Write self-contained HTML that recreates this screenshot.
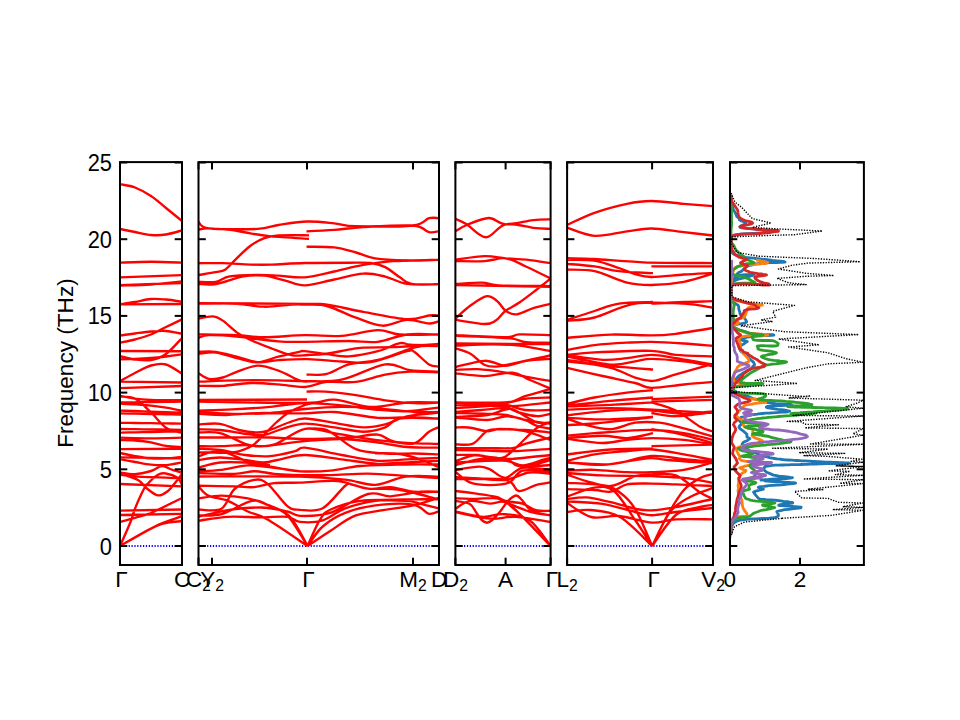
<!DOCTYPE html>
<html><head><meta charset="utf-8"><style>
html,body{margin:0;padding:0;width:960px;height:720px;overflow:hidden;background:#fff}
body{position:relative;font-family:"Liberation Sans",sans-serif;}
.xl{position:absolute;top:567px;width:120px;text-align:center;font-size:22.5px;line-height:26px;color:#000;white-space:nowrap}
.sub{font-size:15.7px;position:relative;top:4px}
.yl{position:absolute;left:51.5px;width:60px;text-align:right;font-size:23.5px;line-height:24px;transform:scaleX(0.93);transform-origin:100% 50%;color:#000}
.ylab{position:absolute;left:66px;top:363px;width:300px;margin-left:-150px;margin-top:-12px;text-align:center;font-size:22.6px;line-height:24px;transform:rotate(-90deg);white-space:nowrap}
</style></head><body>
<svg width="960" height="720" viewBox="0 0 960 720" style="position:absolute;left:0;top:0">
<rect width="960" height="720" fill="#fff"/>
<line x1="120" y1="546" x2="182" y2="546" stroke="#0000ff" stroke-width="1.9" stroke-dasharray="1.2 1.675"/>
<line x1="198.5" y1="546" x2="439" y2="546" stroke="#0000ff" stroke-width="1.9" stroke-dasharray="1.2 1.675"/>
<line x1="455.4" y1="546" x2="550.6" y2="546" stroke="#0000ff" stroke-width="1.9" stroke-dasharray="1.2 1.675"/>
<line x1="567.1" y1="546" x2="713" y2="546" stroke="#0000ff" stroke-width="1.9" stroke-dasharray="1.2 1.675"/>
<path d="M120.0,184.2C122.5,184.8 129.8,185.5 135.0,187.5C140.2,189.5 145.8,192.6 151.0,196.0C156.2,199.4 160.8,203.8 166.0,208.0C171.2,212.2 179.3,218.8 182.0,221.0 M120.0,229.0C122.5,229.5 129.8,231.0 135.0,232.0C140.2,233.0 145.8,234.6 151.0,235.0C156.2,235.4 160.8,235.3 166.0,234.5C171.2,233.7 179.3,231.1 182.0,230.4 M120.0,262.7C125.2,262.5 140.7,261.7 151.0,261.7C161.3,261.7 176.8,262.5 182.0,262.7 M120.0,277.3L182.0,275.2 M120.0,285.2L182.0,283.0 M120.0,285.6C125.2,285.4 140.7,285.2 151.0,284.5C161.3,283.8 176.8,282.0 182.0,281.5 M120.0,304.4C122.5,304.0 129.8,302.9 135.0,302.0C140.2,301.1 145.8,299.4 151.0,299.0C156.2,298.6 160.8,299.1 166.0,299.5C171.2,299.9 179.3,301.3 182.0,301.7 M120.0,304.4L182.0,304.0 M120.0,335.6C122.5,335.2 129.8,334.2 135.0,333.5C140.2,332.8 145.8,331.9 151.0,331.5C156.2,331.1 160.8,330.6 166.0,331.0C171.2,331.4 179.3,333.3 182.0,333.8 M120.0,342.8C122.5,342.2 129.8,340.9 135.0,339.5C140.2,338.1 145.8,336.6 151.0,334.5C156.2,332.4 160.8,329.5 166.0,327.0C171.2,324.5 179.3,320.7 182.0,319.4 M120.0,351.0L182.0,351.2 M120.0,356.2C122.5,356.8 129.8,358.9 135.0,359.5C140.2,360.1 145.8,360.9 151.0,360.0C156.2,359.1 160.8,357.7 166.0,354.0C171.2,350.3 179.3,340.7 182.0,338.0 M120.0,359.4C122.5,359.3 129.8,359.1 135.0,358.9C140.2,358.7 145.8,358.4 151.0,358.0C156.2,357.6 160.8,357.1 166.0,356.5C171.2,355.9 179.3,354.8 182.0,354.4 M120.0,381.2C122.5,379.9 129.8,375.6 135.0,373.0C140.2,370.4 145.8,366.9 151.0,365.5C156.2,364.1 160.8,363.1 166.0,364.5C171.2,365.9 179.3,372.2 182.0,373.8 M120.0,381.6L182.0,382.5 M120.0,388.1L182.0,386.0 M120.0,395.9C122.5,396.3 129.8,397.9 135.0,398.6C140.2,399.3 145.8,399.7 151.0,400.0C156.2,400.3 160.8,400.2 166.0,400.2C171.2,400.2 179.3,400.2 182.0,400.2 M120.0,396.6C122.5,396.9 129.8,396.0 135.0,398.6C140.2,401.2 145.8,407.5 151.0,412.4C156.2,417.2 160.8,424.3 166.0,427.7C171.2,431.1 179.3,432.1 182.0,433.0 M120.0,402.5C122.5,402.5 129.8,402.4 135.0,402.3C140.2,402.2 145.8,402.1 151.0,402.0C156.2,401.9 160.8,401.9 166.0,401.9C171.2,401.8 179.3,401.7 182.0,401.7 M120.0,403.7C122.5,403.8 129.8,404.0 135.0,404.3C140.2,404.6 145.8,405.1 151.0,405.6C156.2,406.2 160.8,406.8 166.0,407.6C171.2,408.5 179.3,410.2 182.0,410.7 M120.0,410.7C122.5,410.8 129.8,410.8 135.0,411.0C140.2,411.2 145.8,411.5 151.0,411.7C156.2,411.9 160.8,412.0 166.0,412.2C171.2,412.4 179.3,412.6 182.0,412.7 M120.0,413.4C122.5,413.4 129.8,413.6 135.0,413.7C140.2,413.8 145.8,413.9 151.0,414.0C156.2,414.1 160.8,414.2 166.0,414.3C171.2,414.4 179.3,414.6 182.0,414.6 M120.0,422.8C122.5,422.8 129.8,422.9 135.0,423.0C140.2,423.1 145.8,423.1 151.0,423.2C156.2,423.3 160.8,423.3 166.0,423.4C171.2,423.5 179.3,423.6 182.0,423.6 M120.0,429.0C122.5,429.0 129.8,429.1 135.0,429.2C140.2,429.3 145.8,429.3 151.0,429.4C156.2,429.5 160.8,429.5 166.0,429.6C171.2,429.7 179.3,429.8 182.0,429.8 M120.0,432.6C122.5,432.6 129.8,432.4 135.0,432.3C140.2,432.2 145.8,432.1 151.0,432.0C156.2,431.9 160.8,431.8 166.0,431.7C171.2,431.6 179.3,431.4 182.0,431.4 M120.0,437.7C125.2,437.8 140.7,438.3 151.0,438.3C161.3,438.3 176.8,437.8 182.0,437.7 M120.0,440.1C122.5,440.2 129.8,440.1 135.0,440.5C140.2,440.9 145.8,441.5 151.0,442.4C156.2,443.3 160.8,445.1 166.0,445.9C171.2,446.7 179.3,446.9 182.0,447.1 M120.0,449.1L182.0,448.7 M120.0,453.0C122.5,453.5 129.8,455.2 135.0,456.1C140.2,457.0 145.8,458.0 151.0,458.4C156.2,458.8 160.8,458.6 166.0,458.4C171.2,458.1 179.3,457.1 182.0,456.9 M120.0,457.3L182.0,458.4 M120.0,459.2C122.5,459.7 129.8,461.1 135.0,462.0C140.2,462.9 145.8,464.2 151.0,464.7C156.2,465.2 160.8,465.5 166.0,465.1C171.2,464.7 179.3,462.8 182.0,462.3 M120.0,472.5C122.5,472.8 129.8,474.4 135.0,474.1C140.2,473.9 146.5,472.3 151.0,471.0C155.5,469.7 158.3,466.4 162.0,466.2C165.7,466.1 169.7,469.2 173.0,470.2C176.3,471.2 180.5,472.1 182.0,472.5 M120.0,474.8C122.5,475.1 129.8,476.0 135.0,476.4C140.2,476.8 145.8,477.0 151.0,477.2C156.2,477.4 160.8,477.4 166.0,477.6C171.2,477.8 179.3,478.3 182.0,478.4 M120.0,473.5C123.1,474.6 134.0,477.8 138.4,480.2C142.8,482.6 143.0,485.5 146.2,488.0C149.5,490.5 154.4,494.9 158.0,495.4C161.6,495.9 165.0,493.3 168.0,491.0C171.0,488.7 173.7,484.5 176.0,481.7C178.3,478.9 181.0,475.3 182.0,474.0 M120.0,484.0L182.0,486.4 M120.0,546.0C121.8,542.0 128.2,527.7 130.6,521.7C133.0,515.7 132.9,514.1 134.5,510.0C136.1,505.9 138.0,501.1 140.0,497.0C142.0,492.9 143.2,489.3 146.2,485.6C149.2,481.9 154.7,476.7 158.0,474.7C161.3,472.7 162.6,473.0 165.8,473.5C169.1,474.0 174.8,475.9 177.5,477.8C180.2,479.7 181.2,483.6 182.0,484.8 M120.0,546.0C124.4,543.5 139.3,534.9 146.2,531.1C153.2,527.3 155.9,525.8 161.9,523.3C167.9,520.8 178.7,517.4 182.0,516.2 M120.0,546.0C124.4,543.5 139.3,534.8 146.2,531.1C153.2,527.4 155.9,525.5 161.9,523.8C167.9,522.1 178.7,521.5 182.0,521.0 M120.0,522.0C124.4,520.8 140.6,516.4 146.2,514.7C151.9,513.0 148.0,514.4 154.0,511.6C160.0,508.8 177.3,500.3 182.0,498.0 M120.0,515.0L182.0,513.9 M120.0,510.6L182.0,509.5 M198.5,221.8C200.2,222.9 199.2,227.1 209.0,228.3C218.8,229.5 245.9,229.5 257.5,228.9C269.1,228.3 270.1,226.2 278.3,225.0C286.6,223.8 297.7,221.8 307.0,221.5C316.3,221.2 326.0,222.5 334.2,223.3C342.4,224.1 342.9,225.9 356.0,226.2C369.1,226.6 400.7,226.8 412.9,225.5C425.1,224.2 424.7,219.4 429.0,218.2C433.3,217.0 436.9,218.2 438.5,218.2 M198.5,229.6C200.1,229.4 202.8,228.2 208.0,228.3C213.2,228.4 222.6,229.1 229.7,229.9C236.8,230.7 243.6,232.2 250.5,233.3C257.4,234.4 261.6,235.5 271.4,236.4C281.1,237.3 302.7,238.4 309.0,238.8 M198.5,275.0C201.4,274.5 211.3,273.1 215.8,272.2C220.3,271.3 222.0,271.7 225.5,269.4C229.0,267.1 232.5,262.2 236.7,258.3C240.9,254.4 245.9,249.2 250.5,245.8C255.1,242.5 259.8,239.9 264.4,238.2C269.0,236.5 270.9,235.9 278.3,235.4C285.7,234.9 303.9,235.3 309.0,235.3 M306.5,231.4C311.1,231.2 324.7,230.6 334.2,229.9C343.7,229.2 350.2,227.7 363.3,227.0C376.4,226.3 401.9,224.7 412.9,225.5C423.8,226.3 424.7,231.1 429.0,232.1C433.3,233.1 436.9,231.5 438.5,231.4 M306.5,246.7C311.1,246.8 325.9,246.4 334.2,247.4C342.4,248.4 349.2,250.7 356.0,252.5C362.8,254.3 366.5,257.0 375.0,258.3C383.5,259.6 396.4,260.2 407.0,260.5C417.6,260.8 433.2,259.9 438.5,259.8 M198.5,263.2C202.6,263.2 214.1,263.0 222.8,263.2C231.5,263.4 242.4,264.4 250.5,264.6C258.6,264.8 262.3,264.9 271.4,264.6C280.5,264.3 292.1,263.3 305.0,263.0C317.9,262.7 337.8,262.7 348.8,262.7C359.7,262.7 364.5,262.3 370.6,263.0C376.7,263.7 380.3,264.7 385.2,267.1C390.1,269.5 395.4,274.5 399.8,277.3C404.2,280.1 405.1,282.7 411.5,283.9C417.9,285.1 434.0,284.2 438.5,284.3 M198.5,281.9C201.4,281.9 210.6,282.8 215.8,281.9C221.0,281.0 222.8,277.5 229.7,276.4C236.6,275.2 249.4,275.1 257.5,275.0C265.6,274.9 270.4,275.3 278.3,275.7C286.2,276.1 295.7,278.0 305.0,277.3C314.3,276.6 324.5,273.6 334.2,271.5C343.9,269.4 353.6,266.6 363.3,264.9C373.0,263.2 380.0,262.1 392.5,261.2C405.0,260.4 430.8,260.0 438.5,259.8 M198.5,284.0C201.4,284.0 208.3,285.3 215.8,284.0C223.3,282.7 235.5,277.8 243.6,276.4C251.7,275.0 257.4,275.0 264.4,275.7C271.3,276.4 278.5,279.0 285.3,280.6C292.1,282.2 296.9,285.5 305.0,285.3C313.1,285.1 324.5,281.4 334.2,279.5C343.9,277.6 354.8,274.1 363.3,273.6C371.8,273.1 377.9,274.9 385.2,276.6C392.5,278.3 398.1,282.6 407.0,283.9C415.9,285.2 433.2,284.2 438.5,284.3 M198.5,303.2C216.2,303.3 283.6,303.7 305.0,303.9C326.4,304.1 317.2,303.3 326.9,304.6C336.6,305.9 349.9,309.5 363.3,311.9C376.7,314.3 396.1,318.6 407.0,319.2C417.9,319.8 423.8,316.1 429.0,315.5C434.2,314.9 436.9,315.5 438.5,315.5 M198.5,303.9C204.9,303.9 225.7,303.4 236.7,303.9C247.7,304.4 255.1,306.6 264.4,306.7C273.6,306.8 285.4,305.0 292.2,304.6C299.0,304.2 299.2,304.4 305.0,304.6C310.8,304.8 318.4,303.8 326.9,306.0C335.4,308.2 346.8,314.4 356.0,317.7C365.2,321.0 373.8,325.3 382.3,325.7C390.8,326.1 399.2,320.3 407.0,319.9C414.8,319.5 423.8,323.2 429.0,323.5C434.2,323.8 436.9,321.8 438.5,321.4 M198.5,318.5C200.9,318.1 208.9,316.0 213.0,316.4C217.1,316.8 218.9,317.9 222.8,320.6C226.8,323.3 232.1,329.2 236.7,332.4C241.3,335.6 244.7,337.4 250.5,340.0C256.3,342.6 264.4,345.8 271.4,348.3C278.3,350.9 286.1,354.2 292.2,355.3C298.3,356.4 302.2,355.2 307.8,355.0C313.4,354.8 318.6,354.8 325.6,353.9C332.6,353.0 343.7,350.4 350.0,349.4C356.3,348.3 355.0,348.0 363.3,347.6C371.6,347.2 387.3,347.5 399.8,346.9C412.3,346.3 432.1,344.5 438.5,344.0 M198.5,334.4C204.9,334.5 225.7,334.6 236.7,335.1C247.7,335.6 253.0,337.2 264.4,337.2C275.8,337.2 292.1,335.4 305.0,335.2C317.9,335.0 329.4,336.8 341.5,335.9C353.6,335.0 368.2,330.3 377.9,330.1C387.6,329.9 389.7,333.8 399.8,334.5C409.9,335.2 432.1,334.5 438.5,334.5 M198.5,337.9C200.2,337.4 202.5,335.3 208.9,335.1C215.3,334.9 225.1,335.4 236.7,336.5C248.3,337.6 266.9,340.5 278.3,341.4C289.7,342.3 293.3,341.9 305.0,341.8C316.7,341.7 336.6,341.0 348.8,341.0C360.9,341.0 368.2,342.9 377.9,341.8C387.6,340.7 396.9,335.7 407.0,334.5C417.1,333.3 433.2,334.5 438.5,334.5 M198.5,351.8C201.4,351.8 209.4,351.0 215.8,351.8C222.2,352.6 229.8,355.0 236.7,356.7C243.6,358.4 250.6,361.6 257.5,362.2C264.4,362.8 269.9,360.6 278.3,360.1C286.7,359.6 297.3,358.9 307.8,359.1C318.3,359.3 331.0,361.0 341.5,361.5C352.0,362.0 359.7,363.9 370.6,362.2C381.5,360.5 399.7,352.9 407.0,351.2C414.3,349.6 410.7,349.8 414.4,352.0C418.1,354.2 425.0,362.0 429.0,364.4C433.0,366.8 436.9,366.2 438.5,366.6 M198.5,353.9C201.4,353.7 209.4,351.8 215.8,352.5C222.2,353.2 229.8,356.4 236.7,358.0C243.6,359.6 250.6,362.4 257.5,362.2C264.4,362.0 271.4,358.4 278.3,356.7C285.2,355.0 294.8,352.7 299.2,351.8C303.6,350.9 300.4,350.9 305.0,351.2C309.6,351.6 319.6,353.3 326.9,354.2C334.2,355.1 340.2,356.9 348.8,356.4C357.2,355.9 369.4,353.4 377.9,351.2C386.4,349.1 394.4,344.3 399.8,343.2C405.2,342.1 403.6,344.3 410.0,344.7C416.4,345.1 433.8,345.3 438.5,345.4 M198.5,373.3C200.2,374.2 204.8,378.2 208.9,378.9C213.0,379.6 218.2,378.7 222.8,377.5C227.4,376.3 230.9,373.9 236.7,371.9C242.5,369.9 250.6,365.9 257.5,365.7C264.4,365.5 271.4,368.2 278.3,370.6C285.2,373.0 294.4,378.5 299.2,380.3C304.0,382.1 305.7,381.5 307.0,381.7 M306.5,374.6C309.9,374.5 319.9,375.6 326.9,373.9C333.9,372.2 340.2,366.7 348.8,364.4C357.2,362.1 368.2,362.4 377.9,360.0C387.6,357.6 399.7,352.1 407.0,349.8C414.3,347.5 416.4,346.7 421.7,346.1C426.9,345.5 435.7,346.1 438.5,346.1 M198.5,381.7C204.9,381.5 223.4,380.5 236.7,380.3C250.0,380.1 266.9,380.2 278.3,380.3C289.7,380.4 294.5,381.2 305.0,381.1C315.5,381.0 328.1,382.5 341.5,379.7C354.9,376.9 373.8,366.0 385.2,364.4C396.6,362.8 401.1,369.0 410.0,370.2C418.9,371.4 433.8,371.4 438.5,371.7 M198.5,385.8C202.6,385.8 214.1,386.3 222.8,385.8C231.5,385.3 241.2,383.2 250.5,383.0C259.8,382.8 269.2,383.7 278.3,384.4C287.4,385.1 296.9,387.4 305.0,387.0C313.1,386.6 318.4,382.8 326.9,381.9C335.4,381.0 346.3,383.1 356.0,381.9C365.7,380.7 376.2,376.3 385.2,374.6C394.2,372.9 401.1,372.1 410.0,371.7C418.9,371.3 433.8,372.3 438.5,372.4 M198.5,400.0L307.0,399.5 M306.5,391.6C309.7,391.6 317.4,391.1 325.6,391.7C333.9,392.3 346.1,393.8 356.0,395.2C365.9,396.6 375.5,399.0 385.2,400.3C394.9,401.6 405.5,402.8 414.4,403.2C423.3,403.6 434.5,402.6 438.5,402.5 M198.5,401.5C216.2,401.8 282.4,403.3 305.0,403.0C327.6,402.7 323.3,399.0 334.2,399.6C345.1,400.2 358.5,406.4 370.6,406.9C382.7,407.4 395.7,403.2 407.0,402.5C418.3,401.8 433.2,402.5 438.5,402.5 M198.5,410.6C204.2,410.4 220.6,410.0 232.5,409.4C244.4,408.8 257.9,407.9 270.0,406.9C282.1,405.9 293.1,403.4 305.0,403.2C316.9,402.9 329.4,404.3 341.5,405.4C353.6,406.5 367.0,408.8 377.9,409.8C388.8,410.8 396.9,411.6 407.0,411.2C417.1,410.9 433.2,408.2 438.5,407.6 M198.5,411.9C204.2,412.2 220.6,413.6 232.5,413.8C244.4,413.9 257.9,413.9 270.0,413.1C282.1,412.3 293.1,410.0 305.0,409.0C316.9,408.0 329.4,407.0 341.5,406.9C353.6,406.8 365.8,407.4 377.9,408.3C390.0,409.2 404.3,411.4 414.4,412.0C424.5,412.6 434.5,412.0 438.5,412.0 M198.5,413.8C203.1,414.0 216.2,415.1 226.0,415.0C235.8,414.9 244.3,413.4 257.5,413.1C270.7,412.8 292.2,413.6 305.0,413.4C317.8,413.2 322.1,411.3 334.2,412.0C346.3,412.7 365.8,416.9 377.9,417.8C390.0,418.7 396.9,417.0 407.0,417.1C417.1,417.2 433.2,418.3 438.5,418.5 M198.5,424.4C202.1,424.3 213.3,422.8 220.0,423.8C226.7,424.7 232.5,428.5 238.8,430.0C245.0,431.5 252.3,432.5 257.5,432.5C262.7,432.5 264.8,431.7 270.0,430.0C275.2,428.3 282.9,424.4 288.8,422.5C294.6,420.6 297.4,418.4 305.0,418.5C312.6,418.6 324.5,421.4 334.2,422.9C343.9,424.4 354.8,427.1 363.3,427.3C371.8,427.6 377.9,426.2 385.2,424.4C392.5,422.6 398.1,418.3 407.0,416.4C415.9,414.4 433.2,413.3 438.5,412.7 M198.5,429.4C202.1,429.5 212.2,429.3 220.0,430.0C227.8,430.7 237.7,432.9 245.0,433.8C252.3,434.6 257.5,435.8 263.8,435.0C270.0,434.2 275.6,430.6 282.5,428.8C289.4,426.9 296.4,423.8 305.0,423.6C313.6,423.4 324.5,426.0 334.2,427.3C343.9,428.6 354.8,431.7 363.3,431.7C371.8,431.7 379.1,429.5 385.2,427.3C391.3,425.1 390.9,420.0 399.8,418.5C408.7,417.0 432.1,418.5 438.5,418.5 M198.5,432.5C202.1,432.6 212.2,431.2 220.0,433.1C227.8,435.0 238.8,441.6 245.0,443.8C251.2,445.9 252.3,446.2 257.5,446.2C262.7,446.2 268.3,446.7 276.2,443.8C284.2,440.8 295.3,430.5 305.0,428.8C314.7,427.0 324.5,431.5 334.2,433.1C343.9,434.7 353.6,436.7 363.3,438.2C373.0,439.7 384.0,441.0 392.5,441.9C401.0,442.8 408.3,445.0 414.4,443.3C420.5,441.6 425.0,434.4 429.0,431.7C433.0,429.0 436.9,428.0 438.5,427.3 M198.5,437.5C204.2,437.5 220.6,437.5 232.5,437.5C244.4,437.5 257.9,437.2 270.0,437.5C282.1,437.8 291.9,439.0 305.0,439.0C318.1,439.0 336.6,438.2 348.8,437.5C360.9,436.8 370.1,433.9 377.9,434.6C385.7,435.3 385.3,440.3 395.4,441.9C405.5,443.5 431.3,443.6 438.5,444.0 M198.5,452.5C201.0,452.5 208.1,452.5 213.8,452.5C219.4,452.5 226.2,453.5 232.5,452.5C238.8,451.5 246.0,449.2 251.2,446.2C256.5,443.3 259.6,439.0 263.8,435.0C267.9,431.0 272.1,426.2 276.2,422.5C280.4,418.8 284.0,415.4 288.8,412.5C293.5,409.6 300.6,406.6 305.0,405.0C309.4,403.4 313.3,403.3 315.0,403.0 M198.5,446.2C202.1,446.2 212.2,446.5 220.0,446.2C227.8,446.0 237.7,445.0 245.0,445.0C252.3,445.0 257.5,446.5 263.8,446.2C270.0,446.0 275.6,444.6 282.5,443.8C289.4,442.9 295.2,441.9 305.0,441.1C314.8,440.3 329.4,438.8 341.5,439.0C353.6,439.2 367.0,441.3 377.9,442.6C388.8,443.9 396.9,446.1 407.0,447.0C417.1,447.9 433.2,447.6 438.5,447.7 M198.5,448.8C202.1,449.0 212.2,449.0 220.0,450.0C227.8,451.0 236.7,454.0 245.0,455.0C253.3,456.0 261.7,456.9 270.0,456.2C278.3,455.6 289.2,452.7 295.0,451.2C300.8,449.8 297.2,447.1 305.0,447.7C312.8,448.3 329.4,452.8 341.5,455.0C353.6,457.2 367.0,460.1 377.9,460.8C388.8,461.5 396.9,459.9 407.0,459.4C417.1,458.9 433.2,458.1 438.5,457.9 M198.5,460.0C202.1,459.6 212.2,457.5 220.0,457.5C227.8,457.5 237.7,459.2 245.0,460.0C252.3,460.8 257.5,462.7 263.8,462.5C270.0,462.3 275.6,460.0 282.5,458.8C289.4,457.5 295.2,454.9 305.0,455.0C314.8,455.1 329.4,457.9 341.5,459.4C353.6,460.9 367.0,463.3 377.9,463.8C388.8,464.2 396.9,462.8 407.0,462.3C417.1,461.8 433.2,461.1 438.5,460.8 M198.5,456.2C202.1,455.4 211.2,450.2 220.0,451.2C228.8,452.3 240.8,459.6 251.2,462.5C261.7,465.4 274.4,467.3 282.5,468.8C290.6,470.2 292.1,471.0 300.0,471.3C307.9,471.6 320.1,471.5 330.2,470.6C340.3,469.7 347.8,467.0 360.4,466.0C373.0,465.0 392.7,464.8 405.7,464.5C418.7,464.2 433.0,464.5 438.5,464.5 M198.5,467.5C202.1,466.7 212.2,463.3 220.0,462.5C227.8,461.7 236.7,462.1 245.0,462.5C253.3,462.9 265.8,464.6 270.0,465.0 M305.0,428.8C308.6,429.0 318.4,426.8 326.9,430.2C335.4,433.6 346.3,445.3 356.0,449.2C365.7,453.1 375.5,452.8 385.2,453.5C394.9,454.2 405.5,453.4 414.4,453.5C423.3,453.6 434.5,454.2 438.5,454.3 M375.0,453.3C379.2,453.4 392.2,452.9 400.0,454.0C407.8,455.1 415.3,457.8 421.7,460.0C428.1,462.2 435.7,465.8 438.5,467.0 M198.5,471.2C202.3,471.0 213.2,470.9 221.4,469.9C229.6,468.9 239.0,465.6 247.8,465.3C256.6,465.0 265.5,466.9 274.2,467.9C282.9,468.9 295.7,470.7 300.0,471.3 M198.5,473.2C204.5,473.3 225.3,474.2 234.6,473.9C243.9,473.6 247.8,471.2 254.4,471.2C261.0,471.2 266.6,473.2 274.2,473.9C281.8,474.5 290.7,474.9 300.0,475.1C309.3,475.3 318.9,475.4 330.2,475.1C341.5,474.9 355.4,473.5 368.0,473.6C380.6,473.7 393.9,475.1 405.7,475.9C417.4,476.6 433.0,477.7 438.5,478.1 M198.5,476.5C215.4,476.5 275.5,476.1 300.0,476.6C324.5,477.1 332.7,478.2 345.3,479.6C357.9,481.0 365.4,485.4 375.5,484.9C385.6,484.4 395.2,478.0 405.7,476.6C416.2,475.2 433.0,476.6 438.5,476.6 M198.5,485.7C204.5,485.8 225.3,486.2 234.6,486.4C243.9,486.6 247.8,487.7 254.4,487.1C261.0,486.6 266.6,483.8 274.2,483.1C281.8,482.4 289.4,483.0 300.0,482.7C310.6,482.4 326.5,480.1 337.8,481.1C349.1,482.1 359.2,487.7 368.0,488.7C376.8,489.7 383.1,486.7 390.6,487.2C398.2,487.7 405.3,490.9 413.3,491.7C421.3,492.4 434.3,491.7 438.5,491.7 M198.5,486.5C200.1,488.0 203.3,493.2 208.2,495.6C213.1,498.0 221.4,498.2 228.0,500.9C234.6,503.5 241.2,508.4 247.8,511.5C254.4,514.6 257.7,513.6 267.6,519.4C277.6,525.1 300.9,541.6 307.5,546.0 M198.5,509.5C202.3,509.4 215.4,512.2 221.4,508.8C227.4,505.4 229.1,493.8 234.6,489.0C240.1,484.2 248.9,480.7 254.4,479.8C259.9,478.9 262.1,479.4 267.6,483.8C273.1,488.2 282.0,501.9 287.4,506.2C292.8,510.5 294.1,509.4 300.0,509.8C305.9,510.2 315.1,512.3 322.7,508.3C330.2,504.3 340.3,489.6 345.3,485.7C350.3,481.8 349.1,484.4 352.9,484.9C356.7,485.4 360.4,487.9 368.0,488.7C375.6,489.5 386.4,487.7 398.2,489.5C409.9,491.3 431.8,497.7 438.5,499.3 M198.5,498.3C202.3,497.9 213.2,495.6 221.4,495.6C229.6,495.6 240.1,496.8 247.8,498.3C255.5,499.9 261.0,502.0 267.6,504.9C274.2,507.8 280.8,508.5 287.4,515.4C294.0,522.2 304.1,540.9 307.5,546.0 M198.5,515.4C202.3,515.2 212.5,516.5 221.4,514.1C230.3,511.7 244.1,502.4 251.8,500.9C259.5,499.4 261.2,502.2 267.6,504.9C274.0,507.5 283.4,509.9 290.0,516.8C296.6,523.6 304.6,541.1 307.5,546.0 M198.5,516.8C203.4,515.7 217.6,511.8 228.0,510.2C238.4,508.6 251.1,507.3 261.0,507.5C270.9,507.7 280.9,510.1 287.4,511.5C293.9,512.9 292.9,515.7 300.0,515.9C307.1,516.1 318.9,516.5 330.2,512.9C341.5,509.2 357.9,496.8 368.0,494.0C378.1,491.2 381.8,496.7 390.6,496.3C399.4,495.9 412.8,492.5 420.8,491.7C428.8,490.9 435.6,491.7 438.5,491.7 M198.5,520.7C203.4,520.1 217.6,517.3 228.0,516.8C238.4,516.2 251.1,517.4 261.0,517.4C270.9,517.4 280.9,516.0 287.4,516.8C293.9,517.5 294.1,521.3 300.0,521.9C305.9,522.5 315.1,522.7 322.7,520.4C330.2,518.1 336.5,511.6 345.3,508.3C354.1,505.0 364.2,502.3 375.5,500.8C386.8,499.3 402.8,499.6 413.3,499.3C423.8,499.1 434.3,499.3 438.5,499.3 M307.5,546.0C309.5,541.7 315.8,526.4 319.6,520.4C323.4,514.4 323.4,513.1 330.2,509.8C337.0,506.5 347.8,502.3 360.4,500.8C373.0,499.3 395.6,500.3 405.7,500.8C415.8,501.3 415.3,502.6 420.8,503.8C426.3,505.1 435.6,507.6 438.5,508.3 M307.5,546.0C310.0,542.8 316.4,532.0 322.7,526.5C329.0,521.0 336.5,516.4 345.3,512.9C354.1,509.4 364.2,506.7 375.5,505.3C386.8,503.9 404.5,503.2 413.3,504.6C422.1,506.0 424.2,512.5 428.4,513.6C432.6,514.7 436.8,511.8 438.5,511.4 M307.5,546.0C311.3,543.5 322.6,535.9 330.2,531.0C337.8,526.1 345.3,519.9 352.9,516.6C360.4,513.3 365.4,513.3 375.5,511.4C385.6,509.5 402.8,507.6 413.3,505.3C423.8,503.0 434.3,499.1 438.5,497.8 M455.4,218.8C457.3,219.7 461.6,221.2 466.7,224.3C471.8,227.4 479.6,237.2 486.1,237.2C492.6,237.2 497.7,225.9 505.6,224.3C513.5,222.7 525.8,227.0 533.3,227.8C540.8,228.6 547.7,228.7 550.6,228.9 M455.4,231.2C457.3,230.2 461.1,227.2 466.7,225.0C472.3,222.8 482.4,218.1 488.9,218.0C495.4,217.9 498.2,224.0 505.6,224.3C513.0,224.7 525.8,220.9 533.3,220.1C540.8,219.3 547.7,219.5 550.6,219.4 M455.4,259.7C460.3,259.1 476.3,256.5 484.7,256.2C493.1,256.0 498.7,257.7 505.6,258.3C512.6,258.9 518.9,258.9 526.4,259.7C533.9,260.5 546.6,262.6 550.6,263.2 M455.4,261.1C460.3,261.1 476.3,261.6 484.7,261.1C493.1,260.6 498.7,257.4 505.6,258.3C512.6,259.2 518.9,263.3 526.4,266.7C533.9,270.1 546.6,276.5 550.6,278.5 M455.4,284.0C459.8,283.8 474.8,282.4 482.0,282.6C489.2,282.8 487.2,284.8 498.6,285.4C510.0,286.0 541.9,286.0 550.6,286.1 M455.4,285.0L550.6,286.8 M455.4,318.5C458.0,316.3 465.6,309.0 470.8,305.3C476.0,301.6 482.4,296.9 486.8,296.2C491.2,295.6 494.1,298.7 497.2,301.1C500.3,303.5 502.4,308.6 505.6,310.8C508.9,313.0 512.1,314.8 516.7,314.3C521.3,313.9 527.6,309.8 533.3,308.1C538.9,306.4 547.7,304.6 550.6,303.9 M455.4,319.9C460.3,320.6 478.0,323.9 484.7,324.0C491.4,324.1 492.3,322.8 495.8,320.6C499.3,318.4 501.7,313.8 505.6,310.8C509.5,307.8 514.3,306.0 519.4,302.5C524.5,299.0 530.9,294.0 536.1,290.0C541.3,286.0 548.2,280.4 550.6,278.5 M455.4,335.1C463.8,335.5 494.9,337.3 505.6,337.2C516.3,337.1 511.9,334.8 519.4,334.4C526.9,334.0 545.4,335.0 550.6,335.1 M455.4,335.8C461.4,336.0 482.2,336.7 491.7,337.2C501.2,337.7 506.7,337.8 512.5,338.6C518.3,339.4 520.0,341.4 526.4,342.1C532.8,342.8 546.6,342.7 550.6,342.8 M455.4,343.5L550.6,344.2 M455.4,345.6C461.4,345.4 481.0,344.2 491.7,344.2C502.4,344.2 509.6,344.5 519.4,345.6C529.2,346.8 545.4,350.2 550.6,351.1 M455.4,348.3C458.0,349.2 465.9,351.1 470.8,353.9C475.7,356.7 480.1,362.9 484.7,365.0C489.3,367.1 492.8,366.9 498.6,366.4C504.4,365.9 510.7,364.0 519.4,362.2C528.1,360.4 545.4,356.4 550.6,355.3 M455.4,367.1C460.3,366.1 476.3,361.0 484.7,360.8C493.1,360.6 498.7,365.7 505.6,365.7C512.6,365.7 518.9,362.0 526.4,360.8C533.9,359.6 546.6,359.1 550.6,358.8 M455.4,369.9C459.1,369.8 469.4,368.8 477.8,369.2C486.2,369.6 497.5,371.3 505.6,372.6C513.7,373.9 518.9,375.4 526.4,376.8C533.9,378.2 546.6,380.3 550.6,381.0 M455.4,373.3C460.3,373.8 475.2,376.2 484.7,376.1C494.2,376.0 504.9,372.0 512.5,372.6C520.0,373.2 523.6,377.3 530.0,380.0C536.4,382.7 547.2,387.2 550.6,388.6 M455.4,403.1C463.7,403.1 493.4,404.2 505.0,403.1C516.6,402.0 517.4,398.6 525.0,396.2C532.6,393.9 546.3,390.0 550.6,388.8 M455.4,402.5C463.7,402.5 493.4,403.1 505.0,402.5C516.6,401.9 517.4,399.6 525.0,398.8C532.6,397.9 546.3,397.7 550.6,397.5 M455.4,405.0C460.8,405.1 478.0,405.4 487.5,405.6C497.0,405.8 502.0,406.8 512.5,406.2C523.0,405.7 544.2,403.1 550.6,402.5 M455.4,408.1C460.8,407.8 479.0,406.8 487.5,406.2C496.0,405.7 500.0,404.4 506.2,405.0C512.5,405.6 517.6,409.2 525.0,410.0C532.4,410.8 546.3,410.0 550.6,410.0 M455.4,411.9C459.7,411.6 472.8,410.6 481.2,410.0C489.7,409.4 500.0,407.7 506.2,408.1C512.5,408.5 513.5,411.1 518.8,412.5C524.0,413.9 532.2,416.0 537.5,416.2C542.8,416.5 548.4,414.2 550.6,413.8 M455.4,413.1C460.8,413.2 479.0,413.4 487.5,413.8C496.0,414.1 500.0,414.0 506.2,415.0C512.5,416.0 517.6,418.5 525.0,420.0C532.4,421.5 546.3,423.1 550.6,423.8 M455.4,417.5C460.8,417.9 479.0,420.2 487.5,420.0C496.0,419.8 500.0,416.2 506.2,416.2C512.5,416.2 519.8,418.3 525.0,420.0C530.2,421.7 533.2,424.8 537.5,426.2C541.8,427.7 548.4,428.3 550.6,428.8 M455.4,416.9C460.8,416.6 478.4,416.4 487.5,415.0C496.6,413.6 503.8,408.5 510.0,408.8C516.2,409.0 520.4,414.0 525.0,416.2C529.6,418.5 533.2,421.5 537.5,422.5C541.8,423.5 548.4,422.5 550.6,422.5 M455.4,427.5C457.6,427.5 463.4,426.9 468.8,427.5C474.1,428.1 482.3,431.0 487.5,431.2C492.7,431.5 493.8,428.8 500.0,428.8C506.2,428.8 516.6,429.4 525.0,431.2C533.4,433.1 546.3,438.5 550.6,440.0 M455.4,444.4C458.2,444.3 467.6,445.7 472.5,443.8C477.4,441.8 481.5,434.9 485.0,432.5C488.5,430.1 487.1,429.8 493.8,429.4C500.4,429.0 515.5,429.5 525.0,430.0C534.5,430.5 546.3,432.1 550.6,432.5 M455.4,463.0C460.0,462.5 475.2,460.8 483.0,460.0C490.8,459.2 497.5,459.2 502.0,458.0C506.5,456.8 507.2,455.2 510.0,453.0C512.8,450.8 514.2,449.2 518.8,445.0C523.3,440.8 532.2,431.2 537.5,427.5C542.8,423.8 548.4,423.3 550.6,422.5 M455.4,448.1C460.8,448.1 478.0,448.1 487.5,448.1C497.0,448.1 506.2,448.8 512.5,448.1C518.8,447.4 518.6,445.5 525.0,443.8C531.4,442.0 546.3,438.5 550.6,437.5 M455.4,450.0C460.8,450.1 478.0,450.4 487.5,450.6C497.0,450.8 502.0,451.6 512.5,451.2C523.0,450.9 544.2,449.2 550.6,448.8 M455.4,455.0C458.7,455.0 468.6,454.6 475.0,455.0C481.4,455.4 487.5,456.9 493.8,457.5C500.0,458.1 503.0,459.2 512.5,458.8C522.0,458.3 544.2,455.6 550.6,455.0 M455.4,461.2C458.7,460.2 469.6,455.6 475.0,455.0C480.4,454.4 482.3,456.7 487.5,457.5C492.7,458.3 500.0,458.5 506.2,460.0C512.5,461.5 517.6,466.2 525.0,466.2C532.4,466.2 546.3,461.0 550.6,460.0 M455.4,465.0C459.7,464.0 472.8,459.8 481.2,458.8C489.7,457.7 500.0,457.5 506.2,458.8C512.5,460.0 511.4,465.2 518.8,466.2C526.1,467.3 545.3,465.2 550.6,465.0 M455.4,462.6C463.3,462.3 491.6,460.2 502.8,460.7C514.0,461.1 516.0,465.4 522.6,465.3C529.2,465.2 537.7,461.2 542.4,460.0C547.1,458.8 549.2,458.3 550.6,458.0 M455.4,469.9C459.3,469.3 473.3,466.7 479.0,466.6C484.7,466.5 485.2,467.3 489.6,469.2C494.0,471.1 499.9,478.0 505.4,477.8C510.9,477.6 515.1,469.2 522.6,467.9C530.1,466.6 545.9,469.6 550.6,469.9 M455.4,471.9C457.8,473.6 464.1,480.2 469.8,482.4C475.5,484.6 483.0,485.1 489.6,485.1C496.2,485.1 503.9,484.8 509.4,482.4C514.9,480.0 515.7,472.4 522.6,470.6C529.5,468.9 545.9,471.7 550.6,471.9 M455.4,477.2C458.9,477.4 468.1,478.1 476.4,478.5C484.7,478.9 496.6,480.8 505.4,479.8C514.2,478.8 521.7,473.5 529.2,472.5C536.7,471.5 547.0,473.7 550.6,473.9 M455.4,479.1C463.7,479.2 494.9,477.8 505.4,479.8C515.9,481.8 513.5,490.1 518.6,491.0C523.7,491.9 530.5,486.5 535.8,485.1C541.1,483.7 548.1,482.8 550.6,482.4 M455.4,491.0C458.9,491.4 469.6,492.7 476.4,493.7C483.2,494.7 491.4,495.8 496.2,497.0C501.0,498.2 501.0,499.8 505.4,500.9C509.8,502.0 517.5,502.1 522.6,503.6C527.7,505.2 531.1,509.0 535.8,510.2C540.5,511.4 548.1,510.7 550.6,510.8 M455.4,498.3C457.8,498.4 463.0,498.9 469.8,498.9C476.6,498.9 490.3,497.8 496.2,498.3C502.1,498.9 499.9,500.0 505.4,502.2C510.9,504.4 521.7,509.3 529.2,511.5C536.7,513.7 547.0,514.8 550.6,515.4 M455.4,508.8C457.8,507.5 464.1,501.8 469.8,500.9C475.5,500.0 483.7,503.4 489.6,503.6C495.5,503.8 499.9,500.0 505.4,502.2C510.9,504.4 515.1,509.5 522.6,516.8C530.1,524.1 545.9,541.1 550.6,546.0 M455.4,500.9C457.8,501.4 466.3,502.0 469.8,504.0C473.3,506.0 474.4,510.1 476.4,512.8C478.4,515.5 479.9,518.4 481.7,520.0C483.5,521.6 485.2,522.7 487.0,522.7C488.8,522.7 490.0,521.9 492.2,520.0C494.4,518.1 497.6,514.7 500.2,511.5C502.8,508.3 505.4,503.7 508.0,501.0C510.6,498.3 513.7,495.7 516.0,495.5C518.3,495.3 519.8,497.8 522.0,500.0C524.2,502.2 526.5,507.0 529.2,508.8C531.9,510.6 534.4,510.7 538.0,511.0C541.6,511.3 548.5,510.8 550.6,510.8 M455.4,511.5C460.0,512.4 475.1,516.4 483.0,516.8C490.9,517.2 495.1,513.6 502.8,514.1C510.5,514.6 521.2,514.7 529.2,520.0C537.2,525.3 547.0,541.7 550.6,546.0 M455.4,512.1C461.1,513.2 479.5,517.9 489.6,518.7C499.7,519.5 505.8,516.2 516.0,516.8C526.2,517.3 544.8,521.1 550.6,522.0 M509.4,504.9C511.6,506.9 515.7,509.9 522.6,516.8C529.5,523.6 545.9,541.1 550.6,546.0 M567.1,224.9C571.7,222.9 584.5,216.3 594.5,212.8C604.5,209.2 617.5,205.8 627.0,203.8C636.5,201.8 641.9,201.0 651.4,201.0C660.9,201.0 673.6,202.9 683.9,203.8C694.2,204.7 708.1,205.8 713.0,206.2 M567.1,227.7C571.7,229.0 584.5,235.2 594.5,235.8C604.5,236.4 617.5,232.6 627.0,231.4C636.5,230.2 641.9,228.4 651.4,228.5C660.9,228.6 673.6,231.1 683.9,232.2C694.2,233.4 708.1,235.0 713.0,235.5 M567.1,258.2C571.7,258.4 581.8,258.3 594.5,259.0C607.2,259.7 623.5,261.6 643.2,262.3C663.0,263.0 701.4,263.0 713.0,263.1 M567.1,259.9C571.7,260.0 585.9,259.3 594.5,260.7C603.1,262.1 612.1,265.8 618.9,268.0C625.6,270.2 629.6,272.5 635.0,274.0C640.4,275.5 643.2,276.9 651.4,277.0C659.5,277.1 673.6,275.2 683.9,274.5C694.2,273.8 708.1,273.2 713.0,272.9 M651.4,266.4L713.0,266.4 M567.1,263.9C571.7,264.3 585.9,265.2 594.5,266.4C603.1,267.6 609.1,270.1 618.9,271.2C628.6,272.4 647.3,272.9 653.0,273.2 M567.1,269.6C571.7,269.9 584.5,269.1 594.5,271.2C604.5,273.4 617.5,280.3 627.0,282.6C636.5,284.9 641.9,285.1 651.4,285.0C660.9,284.9 673.6,283.7 683.9,281.8C694.2,279.9 708.1,275.1 713.0,273.7 M567.1,319.9C571.7,318.4 585.9,313.7 594.5,311.0C603.1,308.3 609.1,305.2 618.9,303.7C628.6,302.2 647.3,302.3 653.0,302.0 M567.1,320.8C571.7,320.2 583.2,320.3 594.5,317.5C605.8,314.7 620.2,306.0 635.1,303.7C650.0,301.4 670.9,303.0 683.9,303.7C696.9,304.4 708.1,307.1 713.0,307.8 M651.4,303.7C656.8,303.4 673.6,302.4 683.9,302.0C694.2,301.6 708.1,301.4 713.0,301.2 M567.1,337.8C574.4,337.3 596.7,335.0 610.8,334.6C624.8,334.2 640.6,335.5 651.4,335.4C662.2,335.3 665.5,335.0 675.8,333.8C686.0,332.5 706.8,329.0 713.0,328.0 M567.1,350.0C571.7,349.2 584.5,346.3 594.5,345.1C604.5,343.9 617.5,343.2 627.0,342.7C636.5,342.2 641.9,341.8 651.4,341.9C660.9,342.0 673.6,342.8 683.9,343.5C694.2,344.2 708.1,345.5 713.0,345.9 M567.1,354.9C571.7,354.5 580.5,353.1 594.5,352.4C608.5,351.7 637.9,350.4 651.4,350.8C664.9,351.2 665.5,353.9 675.8,354.9C686.0,355.8 706.8,356.2 713.0,356.5 M567.1,354.9C573.0,355.7 592.6,359.2 602.6,359.8C612.6,360.3 618.9,358.9 627.0,358.1C635.1,357.3 643.3,354.9 651.4,354.9C659.5,354.9 665.5,356.5 675.8,358.1C686.0,359.7 706.8,363.5 713.0,364.6 M567.1,356.5C574.4,357.9 599.4,363.8 610.8,364.6C622.1,365.4 628.3,362.3 635.1,361.4C641.9,360.4 643.3,358.9 651.4,358.9C659.5,358.9 673.6,360.2 683.9,361.4C694.2,362.6 708.1,365.4 713.0,366.2 M567.1,361.4C574.4,362.2 596.4,364.9 610.8,366.2C625.1,367.6 646.0,369.0 653.0,369.5 M567.1,359.8C574.4,361.1 599.4,364.9 610.8,367.9C622.1,370.9 628.1,375.4 635.1,377.6C642.1,379.8 646.2,381.4 653.0,380.9C659.8,380.4 665.8,377.2 675.8,374.4C685.8,371.5 706.8,365.6 713.0,363.8 M567.1,367.9C573.0,369.2 591.3,373.5 602.6,376.0C613.9,378.5 627.0,381.0 635.1,383.0C643.2,385.0 643.3,387.5 651.4,387.8C659.5,388.0 673.6,385.5 683.9,384.5C694.2,383.5 708.1,382.4 713.0,382.0 M567.1,404.0C571.7,402.9 584.5,399.4 594.5,397.5C604.5,395.6 617.2,393.8 627.0,392.6C636.8,391.4 648.7,390.6 653.0,390.2 M567.1,405.6C574.4,404.8 596.4,402.1 610.8,400.8C625.1,399.4 646.0,398.0 653.0,397.5 M567.1,406.4C574.4,406.1 596.4,405.5 610.8,404.8C625.1,404.1 646.0,402.8 653.0,402.4 M651.4,399.1L713.0,396.7 M651.4,401.6L713.0,399.9 M651.4,402.4C655.5,403.8 667.6,406.4 675.8,410.5C683.9,414.6 693.9,423.2 700.1,426.8C706.3,430.3 710.9,430.8 713.0,431.6 M567.1,409.7C574.4,409.4 596.4,408.1 610.8,408.1C625.1,408.1 636.0,408.9 653.0,409.7C670.0,410.5 703.0,412.4 713.0,412.9 M567.1,415.4C571.7,414.8 584.5,413.1 594.5,412.1C604.5,411.2 617.2,410.0 627.0,409.7C636.8,409.4 643.5,409.8 653.0,410.5C662.5,411.2 673.9,413.6 683.9,413.8C693.9,413.9 708.1,411.7 713.0,411.3 M567.1,417.8C573.0,418.1 588.3,419.5 602.6,419.4C616.9,419.3 644.6,417.4 653.0,417.0 M651.4,413.0C655.5,413.5 665.5,416.3 675.8,416.2C686.0,416.1 706.8,412.8 713.0,412.1 M567.1,425.1C571.7,424.8 584.5,424.3 594.5,423.5C604.5,422.7 617.2,421.3 627.0,420.2C636.8,419.2 648.7,417.5 653.0,417.0 M567.1,418.6C570.3,419.7 579.1,423.3 586.4,425.1C593.7,426.9 602.6,429.6 610.8,429.2C618.9,428.8 627.0,423.8 635.1,422.7C643.2,421.6 651.4,421.8 659.5,422.7C667.6,423.6 675.0,426.1 683.9,428.4C692.8,430.7 708.1,435.1 713.0,436.5 M567.1,435.7C571.7,435.3 584.5,434.1 594.5,433.2C604.5,432.4 617.2,431.3 627.0,430.8C636.8,430.3 643.5,429.6 653.0,430.0C662.5,430.4 673.9,431.6 683.9,433.2C693.9,434.9 708.1,438.7 713.0,439.8 M567.1,438.1C573.0,437.7 592.6,435.7 602.6,435.7C612.6,435.7 618.6,438.5 627.0,438.1C635.4,437.7 648.7,434.1 653.0,433.2 M651.4,429.2C655.5,429.9 665.5,430.9 675.8,433.2C686.0,435.6 706.8,441.4 713.0,443.0 M567.1,438.9C573.0,439.6 592.6,442.9 602.6,443.0C612.6,443.1 618.6,440.6 627.0,439.8C635.4,438.9 643.5,438.1 653.0,438.1C662.5,438.1 673.9,438.7 683.9,439.8C693.9,440.8 708.1,443.8 713.0,444.6 M651.4,446.2L713.0,444.6 M567.1,454.4C574.4,453.6 596.4,450.4 610.8,449.5C625.1,448.6 646.0,448.8 653.0,448.7 M567.1,460.9C571.7,459.8 584.5,456.0 594.5,454.4C604.5,452.8 617.2,451.9 627.0,451.1C636.8,450.3 643.5,448.9 653.0,449.5C662.5,450.1 673.9,452.6 683.9,454.4C693.9,456.1 708.1,459.1 713.0,460.0 M567.1,462.5C574.4,462.8 596.7,465.2 610.8,464.1C624.8,463.0 639.2,456.8 651.4,456.0C663.6,455.2 673.6,458.3 683.9,459.2C694.2,460.2 708.1,461.3 713.0,461.7 M567.1,462.4C573.0,462.8 591.3,465.3 602.6,464.9C613.9,464.5 627.0,461.1 635.1,460.0C643.2,458.9 646.0,458.0 651.4,458.0C656.8,458.0 657.3,459.1 667.6,460.0C677.9,460.9 705.4,462.7 713.0,463.2 M567.1,470.6C571.7,470.5 584.5,469.5 594.5,469.8C604.5,470.0 617.5,471.8 627.0,472.2C636.5,472.6 641.9,472.6 651.4,472.2C660.9,471.8 673.6,471.4 683.9,469.8C694.2,468.1 708.1,463.6 713.0,462.4 M567.1,473.0C573.0,473.4 588.6,474.9 602.6,475.4C616.6,475.9 637.9,475.8 651.4,476.2C664.9,476.7 673.6,476.8 683.9,477.9C694.2,479.0 708.1,481.9 713.0,482.8 M567.1,474.6C570.3,475.7 579.1,479.2 586.4,481.1C593.7,483.0 602.6,486.8 610.8,486.0C618.9,485.2 628.3,478.1 635.1,476.2C641.9,474.4 644.6,474.7 651.4,474.6C658.2,474.5 667.6,472.4 675.8,475.4C683.9,478.4 693.9,488.6 700.1,492.5C706.3,496.4 710.9,497.9 713.0,499.0 M567.1,489.2C571.7,489.4 587.2,489.6 594.5,490.0C601.8,490.4 605.3,492.6 610.8,491.7C616.2,490.8 620.2,485.8 627.0,484.4C633.8,483.0 643.3,483.6 651.4,483.6C659.5,483.6 665.5,484.0 675.8,484.4C686.0,484.8 706.8,485.7 713.0,486.0 M567.1,499.0C570.3,498.7 579.1,496.9 586.4,497.4C593.7,497.9 602.6,500.4 610.8,502.2C618.9,504.1 628.3,507.4 635.1,508.8C641.9,510.1 644.6,510.7 651.4,510.4C658.2,510.1 665.5,509.0 675.8,507.1C686.0,505.2 706.8,500.4 713.0,499.0 M567.1,501.4C573.0,501.8 591.3,502.1 602.6,503.9C613.9,505.7 626.8,510.1 635.1,512.0C643.4,513.9 645.4,515.2 652.2,515.2C659.0,515.2 665.6,513.2 675.8,512.0C685.9,510.8 706.8,508.7 713.0,508.0 M567.1,503.0C571.1,505.3 582.6,514.8 591.2,517.0C599.9,519.2 608.7,515.1 618.9,516.0C629.1,516.9 642.7,522.1 652.2,522.6C661.7,523.1 665.6,519.8 675.8,519.3C685.9,518.8 706.8,519.3 713.0,519.3 M567.1,496.6C571.7,495.1 586.7,488.5 594.5,487.6C602.3,486.7 607.2,485.6 614.0,491.0C620.8,496.4 628.7,510.8 635.1,520.0C641.5,529.2 649.4,541.7 652.2,546.0 M567.1,482.8C573.0,483.2 594.0,483.7 602.6,485.2C611.2,486.7 613.5,487.8 618.9,491.7C624.3,495.6 629.5,499.7 635.1,508.8C640.7,517.8 649.4,539.8 652.2,546.0 M567.1,512.0C570.9,511.7 581.2,509.2 590.0,510.0C598.8,510.8 609.6,511.0 620.0,517.0C630.4,523.0 646.8,541.2 652.2,546.0 M652.2,546.0C654.8,540.8 662.3,524.3 667.6,515.0C672.9,505.7 678.5,496.2 683.9,490.0C689.3,483.8 695.2,480.7 700.1,478.0C705.0,475.3 710.9,474.7 713.0,474.0 M652.2,546.0C655.2,540.3 663.7,520.2 670.0,512.0C676.3,503.8 682.8,501.0 690.0,497.0C697.2,493.0 709.2,489.5 713.0,488.0 M652.2,546.0C656.1,540.8 667.8,521.5 675.8,515.0C683.7,508.5 693.9,508.7 700.1,507.0C706.3,505.3 710.9,505.3 713.0,505.0" fill="none" stroke="#ff0000" stroke-width="2.35" stroke-linecap="butt" stroke-linejoin="round"/>
<clipPath id="dosclip"><rect x="731" y="162.1" width="132.9" height="402.9"/></clipPath>
<g clip-path="url(#dosclip)" fill="none" stroke-linejoin="round">
<path d="M731.1,197.5 L731.2,200.2 L731.7,204.8 L732.7,207.1 L733.2,209.5 L734.9,212.1 L736.0,214.4 L736.8,216.5 L740.5,219.1 L742.7,221.3 L744.8,222.3 L741.6,221.0 L739.2,219.7 L741.6,220.4 L745.6,222.0 L745.9,223.4 L744.1,224.6 L741.3,225.7 L740.0,226.7 L740.1,227.3 L741.9,227.8 L746.1,228.2 L747.8,228.5 L753.1,228.9 L755.5,229.2 L758.1,229.5 L761.9,229.9 L766.2,230.2 L770.3,230.6 L770.3,230.9 L770.2,231.4 L767.7,231.8 L763.9,232.3 L760.8,232.8 L757.6,233.1 L754.9,233.3 L752.2,233.4 L749.9,233.6 L746.1,233.7 L742.7,234.0 L740.1,234.2 L737.0,234.6 L734.5,235.1 L733.0,235.7 L731.7,236.6 L731.0,239.1 L731.2,242.2 L731.0,244.6 L731.0,247.4 L731.0,250.1 L731.6,252.5 L733.0,253.5 L733.9,254.3 L736.1,255.1 L739.1,255.8 L740.4,256.4 L743.9,256.9 L745.9,257.4 L750.2,257.8 L753.5,258.2 L756.1,258.5 L759.7,258.8 L761.5,259.1 L764.9,259.4 L767.2,259.7 L769.3,260.0 L772.4,260.4 L776.8,260.8 L780.4,261.1 L782.3,261.3 L784.6,261.6 L784.2,261.9 L785.1,262.1 L783.8,262.2 L782.8,262.3 L780.2,262.4 L776.5,262.5 L773.7,262.6 L771.0,262.7 L766.3,262.9 L763.8,263.1 L759.8,263.4 L756.5,263.8 L753.4,264.3 L752.2,264.9 L748.7,265.6 L746.2,267.0 L743.8,268.8 L742.0,270.9 L737.9,273.1 L736.5,275.1 L734.9,276.9 L734.2,278.2 L733.8,278.7 L736.4,277.5 L739.6,275.5 L742.8,275.0 L746.3,274.7 L751.0,274.6 L753.9,274.7 L753.4,275.0 L752.8,275.4 L750.9,276.0 L747.9,276.8 L745.0,277.6 L741.6,278.5 L737.6,279.5 L734.6,280.6 L733.4,281.6 L732.1,283.2 L731.6,285.3 L731.2,287.9 L731.0,291.2 L731.2,294.6 L731.6,297.5 L732.7,300.1 L733.6,302.4 L736.0,304.0 L736.8,304.5 L738.0,305.0 L738.7,306.7 L738.8,309.2 L739.7,311.9 L740.2,314.4 L743.9,317.2 L745.6,319.7 L746.7,321.9 L745.3,322.9 L741.7,323.6 L738.0,324.2 L734.4,324.8 L733.1,325.6 L733.7,326.6 L734.9,327.7 L737.5,328.9 L739.6,330.1 L744.3,331.3 L746.8,332.3 L748.7,333.1 L751.4,333.6 L754.6,334.0 L757.8,334.2 L760.7,334.4 L765.5,334.5 L768.9,334.6 L770.6,334.7 L772.8,334.7 L773.4,334.8 L773.9,335.0 L773.9,335.2 L772.2,335.3 L771.1,335.4 L767.0,335.6 L763.5,335.7 L762.0,335.9 L757.7,336.1 L753.8,336.3 L751.8,336.5 L748.5,336.9 L745.3,337.7 L742.6,338.7 L740.8,339.7 L742.4,340.3 L745.1,340.8 L747.3,341.6 L745.5,342.6 L743.8,343.9 L741.1,345.3 L740.6,347.1 L739.7,349.0 L740.6,351.0 L743.7,353.1 L746.4,355.4 L748.3,357.5 L750.9,360.0 L753.7,362.4 L754.6,365.0 L752.9,366.4 L752.0,367.9 L749.6,369.5 L746.4,371.1 L743.6,372.7 L741.3,374.3 L738.7,375.9 L737.3,377.5 L736.0,379.1 L733.1,381.9 L731.7,384.7 L731.7,387.5 L732.5,388.6 L733.3,389.7 L734.6,390.9 L736.4,392.0 L738.5,393.1 L741.0,394.3 L744.5,395.4 L747.9,396.4 L750.7,397.5 L752.9,398.5 L756.2,399.4 L759.3,400.2 L760.6,401.0 L764.3,401.7 L767.1,402.3 L769.7,402.9 L772.9,403.3 L775.7,403.7 L778.4,403.9 L782.9,404.0 L784.9,404.1 L788.4,404.2 L790.8,404.3 L790.9,404.5 L791.4,404.7 L791.8,404.9 L789.3,405.1 L785.3,405.3 L781.6,405.5 L777.8,405.7 L775.4,405.9 L771.7,406.1 L767.4,406.4 L766.8,406.7 L766.3,407.0 L766.5,407.4 L768.0,407.8 L771.5,408.3 L774.4,408.8 L778.1,409.3 L783.7,409.8 L786.1,410.3 L788.1,410.8 L789.7,411.2 L788.2,411.5 L787.9,411.8 L785.9,412.0 L782.2,412.2 L779.4,412.4 L776.2,412.6 L772.6,412.8 L769.8,413.0 L765.6,413.2 L762.4,413.5 L758.6,413.8 L757.3,414.1 L753.8,414.5 L750.7,415.1 L747.5,415.8 L744.8,416.5 L741.0,417.3 L740.0,418.2 L738.2,419.2 L740.0,421.5 L742.0,423.9 L739.5,425.8 L739.0,427.6 L740.9,429.4 L743.8,431.4 L746.9,434.3 L746.9,437.0 L748.7,437.9 L749.9,438.7 L747.5,440.4 L743.4,442.3 L742.0,444.4 L742.5,445.5 L744.1,446.7 L744.5,448.0 L747.6,449.3 L749.6,450.7 L752.5,452.0 L756.6,453.3 L759.2,454.5 L762.5,455.6 L765.9,456.6 L768.3,457.1 L769.5,457.6 L772.2,458.1 L774.5,458.5 L777.0,458.9 L780.0,459.2 L782.2,459.5 L785.1,459.8 L787.8,460.0 L791.6,460.2 L793.9,460.4 L797.1,460.5 L800.0,460.7 L801.5,460.8 L804.8,460.9 L808.3,461.1 L810.8,461.2 L811.9,461.3 L814.4,461.4 L817.4,461.6 L818.9,461.7 L822.4,461.9 L825.4,462.1 L830.1,462.2 L833.8,462.4 L837.4,462.5 L839.1,462.6 L843.1,462.7 L845.4,462.8 L846.2,462.9 L848.8,463.0 L849.4,463.1 L847.6,463.2 L848.2,463.3 L845.6,463.3 L843.9,463.4 L842.6,463.5 L839.6,463.5 L835.3,463.6 L832.7,463.6 L829.6,463.7 L825.9,463.7 L822.2,463.8 L819.1,463.9 L816.7,464.0 L812.2,464.1 L810.5,464.2 L807.6,464.4 L803.9,464.4 L801.5,464.5 L798.8,464.6 L795.3,464.6 L791.0,464.7 L789.4,464.8 L785.7,464.9 L782.8,465.0 L777.9,465.1 L775.2,465.2 L772.0,465.4 L770.9,465.7 L767.7,466.0 L765.6,466.3 L764.8,466.8 L764.8,467.2 L764.1,467.8 L763.9,469.9 L766.7,472.3 L771.8,474.4 L773.4,475.1 L776.7,475.7 L778.9,476.2 L782.3,476.5 L786.8,476.8 L788.9,477.1 L790.1,477.3 L792.5,477.6 L791.3,477.9 L790.0,478.2 L786.1,478.5 L784.5,478.7 L779.4,479.0 L777.3,479.2 L772.8,479.4 L769.1,479.6 L766.4,479.7 L764.7,479.9 L761.7,479.9 L760.9,480.0 L762.3,480.0 L763.3,479.8 L765.5,479.7 L768.7,479.5 L772.0,479.2 L776.0,478.9 L779.9,478.7 L783.4,478.4 L787.4,478.2 L789.0,478.1 L791.0,478.0 L791.0,478.0 L790.6,478.1 L787.9,478.3 L785.4,478.5 L781.4,478.8 L779.0,479.2 L774.7,479.5 L770.4,479.9 L768.0,480.2 L767.0,480.5 L764.6,480.8 L766.6,481.0 L767.5,481.2 L770.0,481.4 L773.8,481.6 L776.4,481.8 L780.4,481.9 L784.4,482.1 L788.5,482.3 L790.3,482.5 L793.8,482.7 L795.2,482.9 L795.6,483.2 L794.6,483.4 L793.0,483.7 L790.2,483.9 L787.4,484.2 L783.9,484.5 L781.5,484.8 L776.7,485.1 L772.6,485.4 L768.7,485.7 L766.8,486.0 L763.9,486.4 L761.2,486.7 L758.9,487.0 L758.3,487.4 L760.7,488.3 L763.4,489.2 L760.5,490.0 L756.8,490.8 L753.6,492.1 L755.5,494.9 L757.9,497.7 L758.7,498.5 L760.2,499.1 L764.2,499.4 L765.8,499.7 L768.8,499.9 L771.1,500.0 L774.7,500.2 L777.5,500.5 L780.7,500.9 L783.6,501.3 L787.6,501.7 L789.6,502.1 L792.2,502.4 L792.7,502.8 L792.2,503.2 L788.7,503.6 L785.0,504.0 L782.0,504.4 L779.1,504.8 L778.7,505.2 L779.3,505.5 L781.8,505.7 L784.6,505.9 L788.3,506.2 L792.3,506.4 L794.9,506.6 L797.8,506.9 L801.2,507.2 L800.3,507.5 L800.7,507.9 L798.5,508.2 L794.4,508.5 L792.4,508.9 L788.8,509.3 L784.6,509.7 L781.7,510.3 L779.4,510.9 L776.8,511.7 L778.0,513.7 L778.5,515.5 L777.8,516.6 L775.3,517.4 L773.8,517.7 L771.2,518.0 L769.4,518.2 L766.1,518.4 L763.1,518.5 L759.0,518.6 L755.3,518.8 L752.3,518.9 L749.6,519.1 L746.1,519.3 L744.9,519.5 L742.0,519.8 L740.3,520.2 L736.5,521.2 L733.6,523.0 L731.9,525.7 L731.0,529.5 L731.0,532.8 L731.0,534.2" stroke="#1f77b4" stroke-width="2.8"/>
<path d="M756.0,260.0 L758.3,260.3 L761.7,261.1 L765.6,262.0 L767.6,262.8 L765.8,263.2 L765.7,263.5 L762.4,263.7 L759.1,264.0 L756.2,264.2 L753.5,264.5 L748.8,264.8 L746.2,265.1 L743.3,265.5 L739.4,266.1 L736.8,266.7 L735.3,267.5 L733.6,270.0 L732.7,273.1 L732.1,275.8 L731.9,278.9 L731.6,282.1 L731.5,285.3 L731.2,288.5 L731.0,291.8 L731.0,294.9 L731.6,297.5 L732.7,298.8 L734.5,299.9 L737.2,300.8 L740.8,301.6 L743.9,302.2 L746.9,302.8 L749.0,303.2 L752.0,303.7 L754.0,304.0 L757.4,304.5 L759.6,304.7 L762.4,305.0 L760.1,305.4 L759.3,305.7 L756.0,306.2 L750.7,306.8 L748.6,307.6 L747.3,308.7 L746.6,311.4 L745.5,314.6 L744.3,317.2 L741.0,318.5 L738.4,319.2 L735.0,320.0 L737.4,321.4 L738.4,322.8 L737.2,323.9 L733.9,324.9 L731.5,326.1 L732.6,327.2 L734.8,328.5 L738.7,329.9 L741.8,331.1 L744.2,332.2 L748.1,332.7 L750.3,333.2 L752.8,333.5 L756.2,333.8 L760.6,334.1 L763.5,334.3 L765.6,334.5 L766.9,334.7 L767.9,335.0 L767.2,335.2 L766.7,335.3 L762.6,335.3 L761.1,335.3 L757.8,335.4 L752.8,335.4 L750.8,335.6 L747.0,335.9 L744.5,336.3 L741.0,336.9 L739.8,337.8 L738.9,340.3 L740.4,343.3 L740.2,346.2 L740.8,349.6 L742.7,352.8 L744.8,355.1 L747.2,357.4 L748.6,359.4 L748.8,361.4 L745.3,363.1 L744.2,364.2 L740.0,365.2 L737.7,366.9 L736.6,369.2 L734.6,372.2 L733.7,375.6 L733.5,378.6 L733.8,380.9 L736.3,382.5 L739.9,383.3 L744.0,384.0 L745.6,384.7 L743.4,385.4 L740.3,386.0 L735.1,386.6 L732.4,387.4 L731.0,388.4 L731.2,389.7 L733.0,391.4 L735.1,393.2 L737.4,394.9 L742.1,396.5 L743.1,397.6 L746.3,398.4 L748.8,398.8 L751.4,399.0 L754.9,399.2 L757.9,399.5 L760.4,400.2 L764.9,401.0 L765.9,401.8 L765.8,402.2 L763.7,402.6 L760.6,402.9 L757.4,403.2 L754.0,403.6 L751.9,404.1 L747.8,404.7 L744.4,405.5 L743.7,406.5 L741.5,408.7 L738.5,411.5 L736.7,414.2 L736.6,416.4 L738.9,418.3 L742.6,420.1 L742.9,423.5 L744.2,426.7 L746.6,427.8 L750.3,428.4 L753.0,429.5 L752.7,432.7 L752.1,436.0 L753.9,437.4 L757.0,438.6 L759.8,439.6 L762.2,440.6 L762.6,441.6 L762.4,442.2 L762.1,442.9 L758.0,443.4 L755.7,444.0 L752.6,444.5 L749.5,445.1 L744.7,445.7 L741.6,446.4 L738.9,447.2 L737.2,448.1 L736.2,449.1 L737.1,451.5 L738.4,454.2 L739.9,456.6 L739.3,458.6 L741.0,460.3 L744.9,461.1 L748.8,461.7 L751.8,462.1 L754.9,462.5 L755.0,463.1 L754.6,463.8 L752.8,464.6 L748.7,465.4 L745.0,466.2 L742.2,467.0 L739.6,467.8 L742.5,469.2 L745.9,470.6 L745.3,471.6 L742.8,472.7 L740.9,474.4 L739.5,476.6 L738.7,479.4 L738.7,482.5 L738.1,485.5 L738.5,488.3 L738.0,491.3 L740.2,494.2 L739.8,497.1 L741.8,499.6 L742.2,502.9 L742.5,506.1 L743.3,508.5 L745.0,511.2 L746.9,513.6 L747.0,515.5 L744.2,516.3 L741.3,516.5 L739.0,516.6 L736.5,517.4 L733.8,519.6 L731.6,522.7 L731.0,525.5 L731.0,526.7" stroke="#ff7f0e" stroke-width="2.8"/>
<path d="M731.1,197.5 L731.1,198.0 L731.1,199.5 L731.2,201.7 L731.3,204.5 L731.4,207.7 L731.5,211.1 L731.5,214.6 L731.5,218.0 L731.5,221.1 L731.6,223.8 L731.4,226.5 L731.1,229.1 L731.0,231.6 L731.0,234.1 L731.0,236.5 L731.0,238.9 L731.1,241.3 L732.2,243.5 L734.0,245.9 L735.0,248.3 L736.5,250.7 L739.3,253.0 L741.6,255.1 L744.3,257.1 L745.3,258.7 L748.1,260.0 L752.3,261.8 L754.1,262.8 L752.2,263.2 L750.7,263.3 L746.2,263.7 L744.6,264.5 L740.5,265.6 L737.4,266.8 L735.8,268.1 L733.3,269.4 L732.1,271.3 L731.6,273.1 L732.5,274.1 L734.3,274.9 L737.2,275.7 L740.8,276.4 L744.5,277.2 L745.6,277.9 L748.3,278.7 L751.7,280.7 L755.1,282.5 L752.6,282.9 L750.6,283.1 L748.0,283.2 L745.5,283.2 L743.0,283.2 L739.6,283.3 L736.1,283.6 L733.6,284.3 L731.7,285.3 L731.0,287.7 L731.0,291.0 L731.0,294.5 L731.0,297.8 L731.5,300.3 L733.2,302.3 L734.3,304.0 L734.0,306.6 L733.4,309.7 L733.2,312.6 L733.2,315.9 L733.5,319.2 L733.4,321.9 L732.4,324.2 L731.5,326.1 L732.9,327.2 L734.3,328.4 L737.0,329.5 L741.0,330.6 L744.3,331.5 L746.6,332.4 L748.5,333.1 L752.7,333.7 L756.2,334.1 L760.8,334.4 L761.9,334.7 L763.2,335.0 L762.4,335.4 L756.6,335.7 L753.2,336.1 L751.9,336.9 L752.6,338.3 L753.2,339.7 L755.0,340.2 L757.7,340.4 L762.6,340.5 L764.6,340.4 L768.9,340.5 L772.3,340.6 L773.7,340.9 L775.2,341.6 L778.2,343.4 L777.8,345.3 L775.9,345.8 L774.4,346.0 L770.4,346.0 L766.7,345.9 L762.5,345.7 L760.9,345.6 L758.9,345.8 L757.2,346.2 L758.2,347.6 L757.9,349.0 L760.1,349.8 L763.5,350.4 L767.9,350.9 L771.4,351.4 L773.3,351.8 L775.3,352.3 L776.5,352.8 L775.4,353.4 L773.4,354.0 L768.0,354.7 L765.5,355.3 L762.4,355.9 L761.3,356.6 L762.4,357.5 L765.0,358.5 L767.8,359.4 L770.4,359.9 L773.7,360.3 L778.1,360.7 L780.2,361.1 L783.4,361.4 L786.6,361.8 L786.4,362.2 L785.3,362.5 L783.4,362.9 L781.7,363.2 L777.9,363.5 L775.7,363.8 L772.1,364.2 L769.4,364.6 L765.8,365.0 L763.1,365.7 L760.8,366.9 L759.9,367.8 L757.9,369.1 L754.7,370.7 L751.3,372.4 L748.6,374.3 L746.2,376.1 L743.9,377.9 L742.1,379.5 L741.0,380.8 L740.4,381.9 L740.3,382.6 L744.0,383.0 L746.0,383.3 L750.2,383.4 L753.7,383.4 L758.0,383.4 L760.0,383.4 L762.2,383.5 L763.0,383.7 L762.2,384.0 L762.0,384.3 L758.8,384.6 L755.1,384.9 L751.6,385.2 L748.9,385.5 L744.0,385.9 L739.7,386.3 L737.6,386.7 L734.5,387.2 L732.7,387.8 L731.5,388.4 L732.6,390.3 L735.8,392.2 L737.7,392.7 L740.1,393.0 L741.0,393.2 L744.4,393.4 L747.2,393.4 L750.6,393.4 L755.2,393.4 L757.4,393.5 L760.7,393.6 L761.7,393.7 L764.2,394.0 L765.4,394.8 L765.8,395.7 L764.9,396.8 L761.6,398.0 L758.0,399.0 L759.5,399.4 L760.8,399.7 L762.0,400.0 L764.8,400.2 L767.3,400.4 L770.6,400.5 L774.0,400.6 L778.1,400.8 L781.5,400.9 L783.6,401.1 L785.9,401.4 L789.4,401.7 L793.2,402.0 L795.6,402.3 L799.2,402.7 L802.2,403.0 L806.4,403.4 L808.5,403.7 L809.6,404.1 L811.0,404.4 L812.0,404.7 L811.5,404.9 L809.4,405.2 L805.1,405.4 L801.4,405.6 L798.4,405.8 L794.0,406.0 L790.5,406.2 L788.3,406.3 L788.8,406.5 L787.8,406.6 L789.2,406.7 L790.2,406.8 L792.1,406.9 L795.3,407.0 L798.2,407.1 L799.9,407.2 L802.8,407.3 L807.3,407.3 L809.8,407.4 L813.1,407.5 L818.6,407.6 L821.4,407.7 L825.9,407.8 L828.7,407.8 L833.0,407.9 L835.4,408.0 L837.8,408.1 L840.1,408.2 L843.5,408.3 L845.5,408.5 L847.5,408.6 L846.7,408.7 L848.1,408.9 L847.2,409.0 L846.5,409.2 L844.3,409.4 L842.5,409.7 L840.5,409.9 L838.4,410.2 L833.6,410.4 L830.9,410.7 L827.9,410.9 L824.5,411.2 L819.1,411.5 L815.1,411.7 L813.0,412.0 L809.5,412.2 L805.0,412.5 L801.0,412.7 L799.8,412.9 L796.3,413.1 L795.3,413.2 L793.1,413.4 L792.6,413.5 L790.9,413.6 L793.0,413.6 L794.1,413.6 L797.7,413.5 L802.5,413.4 L806.5,413.2 L809.0,413.1 L812.3,413.0 L814.9,413.0 L816.0,413.1 L815.5,413.2 L814.2,413.3 L813.3,413.4 L812.7,413.6 L811.1,413.8 L807.1,414.0 L805.6,414.2 L803.2,414.5 L798.7,414.7 L797.1,415.0 L792.3,415.3 L789.9,415.6 L786.3,415.9 L782.9,416.2 L778.7,416.5 L775.5,416.8 L772.4,417.1 L768.8,417.4 L766.2,417.7 L762.9,418.0 L760.2,418.3 L757.0,418.6 L756.1,418.9 L754.1,419.2 L749.6,419.9 L747.0,420.6 L744.4,421.3 L742.8,422.0 L743.1,422.4 L745.8,422.7 L748.2,423.0 L751.9,423.4 L756.4,423.7 L759.4,423.9 L763.2,424.2 L765.5,424.5 L765.4,424.8 L765.7,425.1 L762.3,425.3 L760.3,425.6 L756.6,425.8 L752.3,426.1 L748.0,426.4 L746.6,426.7 L745.4,427.1 L747.5,427.7 L748.5,428.4 L753.4,429.1 L757.5,429.9 L760.4,430.6 L763.1,431.3 L762.9,431.8 L762.7,432.4 L757.8,432.9 L754.9,433.3 L753.1,433.7 L752.6,434.1 L756.4,434.6 L760.2,435.0 L762.2,435.5 L766.0,436.0 L769.7,436.7 L771.3,437.5 L775.6,438.3 L777.2,439.0 L781.0,439.7 L783.1,440.2 L787.5,440.7 L791.2,441.1 L791.0,441.6 L790.8,441.8 L790.2,442.1 L788.3,442.4 L785.6,442.7 L783.4,443.0 L780.6,443.3 L779.0,443.7 L775.3,444.0 L772.3,444.3 L767.5,444.7 L765.5,445.0 L761.0,445.3 L759.0,445.6 L756.6,445.9 L753.8,446.2 L751.5,446.7 L747.3,447.1 L743.9,447.5 L741.7,448.0 L738.2,448.5 L739.2,449.1 L739.9,449.9 L742.9,450.9 L747.9,451.9 L750.3,452.9 L753.2,453.7 L750.8,454.4 L746.8,455.0 L744.1,455.6 L741.8,456.1 L742.7,456.5 L747.2,456.7 L749.8,457.0 L754.9,457.5 L755.5,458.4 L754.8,460.6 L752.2,463.3 L749.6,465.9 L751.7,468.2 L754.5,470.4 L755.9,472.5 L755.6,474.5 L754.4,476.2 L752.8,477.4 L749.0,478.3 L746.1,479.1 L745.5,479.9 L745.3,480.5 L748.5,481.0 L752.9,481.6 L754.7,482.1 L755.9,482.7 L754.9,483.5 L751.1,484.3 L749.1,485.5 L748.9,487.4 L749.6,489.2 L746.2,490.1 L742.3,491.1 L743.2,493.3 L744.3,496.2 L745.9,498.6 L749.2,499.5 L750.3,500.2 L753.1,500.7 L756.4,501.1 L761.0,501.4 L764.9,501.7 L768.1,501.9 L770.2,502.1 L772.2,502.3 L773.2,502.5 L775.0,502.8 L773.5,503.3 L769.8,503.8 L766.5,504.3 L762.9,504.7 L762.5,505.2 L763.4,505.6 L765.7,506.1 L770.9,506.5 L772.4,507.0 L774.8,507.5 L773.8,508.0 L771.5,508.5 L768.3,509.1 L766.4,509.6 L761.5,510.3 L759.5,511.0 L757.8,511.7 L753.5,513.3 L751.4,515.0 L749.6,516.4 L746.5,517.1 L743.4,517.4 L740.6,517.6 L736.6,518.3 L734.4,519.8 L732.5,522.0 L731.5,524.4 L731.0,527.5 L731.0,530.7 L731.0,533.2 L731.0,534.2" stroke="#2ca02c" stroke-width="2.8"/>
<path d="M731.1,194.6 L731.1,197.4 L731.9,201.9 L734.1,204.7 L736.1,207.7 L737.7,210.2 L738.0,212.9 L738.5,215.7 L739.8,217.9 L742.3,219.3 L745.0,220.5 L748.6,221.4 L751.8,222.2 L752.6,223.0 L751.6,223.9 L748.3,224.7 L743.8,225.4 L741.4,226.1 L739.9,226.7 L741.6,227.3 L743.5,227.8 L746.4,228.3 L750.9,228.7 L755.0,229.1 L756.2,229.3 L760.8,229.5 L762.6,229.7 L766.7,229.9 L770.1,230.1 L774.2,230.3 L777.1,230.5 L778.4,230.7 L778.1,230.9 L778.4,231.3 L775.2,231.7 L771.9,232.1 L769.7,232.5 L765.4,232.9 L762.0,233.3 L759.6,233.5 L757.6,233.7 L753.7,233.8 L751.4,233.9 L748.1,233.9 L745.3,234.1 L741.6,234.2 L739.4,234.5 L736.6,234.8 L734.2,235.2 L732.6,235.8 L731.6,236.6 L731.0,239.1 L731.2,242.2 L731.3,244.7 L731.6,247.5 L732.3,250.2 L733.9,252.5 L735.1,254.4 L737.0,255.9 L739.1,257.2 L743.2,258.4 L747.0,259.5 L743.6,261.1 L740.5,262.8 L742.4,263.7 L744.6,264.6 L747.7,265.6 L745.4,267.5 L744.4,269.4 L745.7,270.5 L748.5,271.5 L750.1,272.4 L754.9,273.1 L757.9,273.6 L761.4,274.0 L763.0,274.3 L765.7,274.6 L766.5,275.0 L765.0,275.4 L763.4,275.7 L759.5,276.1 L755.9,276.6 L754.8,277.3 L755.4,278.6 L757.4,280.2 L759.9,281.6 L763.6,282.8 L768.8,283.9 L769.5,284.8 L769.2,285.1 L768.2,285.1 L765.5,285.1 L763.5,285.0 L760.6,284.8 L758.2,284.5 L754.1,284.3 L750.4,284.1 L748.1,283.9 L743.7,283.9 L741.1,283.9 L737.7,284.1 L734.3,284.4 L732.9,285.0 L731.6,285.8 L731.0,288.1 L731.0,291.1 L731.0,294.1 L731.0,296.6 L732.0,298.0 L734.6,299.1 L736.1,300.0 L740.3,300.8 L741.7,301.5 L743.7,302.2 L747.5,303.2 L751.8,304.0 L755.1,305.0 L756.2,306.4 L758.8,307.8 L757.5,308.4 L755.1,308.8 L750.2,309.2 L747.2,309.7 L744.4,310.6 L743.8,312.8 L741.5,315.3 L740.8,317.5 L737.1,319.8 L735.0,321.9 L733.1,323.8 L731.6,325.6 L732.7,327.9 L735.6,330.3 L737.4,332.7 L740.6,335.0 L738.2,336.8 L735.8,338.7 L736.6,341.5 L737.9,344.4 L738.7,346.8 L739.8,349.0 L742.7,350.6 L743.5,352.0 L747.8,353.3 L748.5,354.7 L751.1,356.2 L753.3,357.8 L756.8,359.4 L758.7,361.0 L761.6,362.8 L765.2,364.5 L764.8,365.9 L764.1,366.7 L761.6,367.1 L758.5,367.3 L754.9,367.8 L751.6,368.7 L748.6,370.2 L746.1,372.0 L743.4,374.0 L742.5,376.1 L740.2,378.2 L738.7,380.0 L735.6,383.0 L734.4,385.6 L732.3,387.0 L731.0,388.4 L732.1,391.2 L735.3,393.9 L738.5,395.0 L739.8,395.8 L742.3,396.7 L745.2,398.0 L748.7,399.5 L750.1,400.9 L747.2,401.8 L743.9,402.6 L740.4,403.3 L737.8,404.2 L736.3,405.5 L734.9,407.0 L736.4,408.8 L737.6,410.7 L737.2,413.0 L734.7,415.4 L734.8,417.8 L737.1,420.1 L734.4,422.5 L733.4,424.8 L734.9,427.1 L735.8,429.5 L734.9,431.7 L733.4,434.2 L732.4,436.9 L731.8,439.8 L731.5,442.5 L732.9,444.9 L734.3,447.2 L733.1,450.5 L732.5,453.7 L734.0,456.1 L735.7,458.4 L736.7,460.8 L737.5,463.1 L735.8,465.0 L734.0,466.9 L734.7,468.7 L735.2,470.6 L737.5,472.9 L740.0,475.4 L739.9,477.2 L739.3,477.6 L738.7,478.0 L739.2,480.3 L740.5,483.6 L741.3,485.8 L740.9,488.3 L739.7,491.0 L738.5,493.9 L738.0,496.7 L737.1,499.3 L736.7,502.1 L736.0,505.1 L735.5,508.0 L735.7,510.8 L734.5,513.3 L734.3,515.5 L733.4,517.9 L731.9,519.8 L731.0,522.0 L731.0,525.4 L731.0,529.4 L731.0,532.8 L731.0,534.2" stroke="#d62728" stroke-width="2.8"/>
<path d="M731.6,260.0 L731.7,261.0 L731.7,263.4 L731.7,266.7 L731.8,270.1 L731.6,273.1 L731.5,276.0 L731.2,278.8 L731.0,281.8 L731.0,285.3 L731.0,287.3 L731.0,289.6 L731.0,292.0 L731.0,294.7 L731.0,297.5 L731.0,300.4 L731.0,303.3 L731.0,306.3 L731.0,309.2 L731.0,312.1 L731.0,314.8 L731.0,317.4 L731.0,319.8 L731.0,321.9 L731.0,323.7 L731.2,327.2 L732.1,330.0 L732.4,333.1 L733.0,335.8 L733.0,338.8 L733.5,341.9 L733.2,345.0 L734.4,347.8 L734.3,350.0 L735.2,352.5 L736.8,354.7 L737.3,358.0 L737.2,361.2 L740.5,362.7 L744.3,363.8 L748.3,364.8 L749.1,365.9 L748.1,366.9 L745.9,367.8 L744.0,368.8 L741.2,369.9 L737.5,371.1 L735.0,372.5 L733.8,375.1 L732.4,378.0 L731.6,380.9 L731.1,383.5 L731.0,386.0 L731.0,388.4 L731.0,392.0 L731.6,395.0 L733.4,395.9 L735.0,396.7 L739.0,398.8 L739.8,401.4 L739.7,404.3 L739.8,407.0 L741.7,408.1 L744.3,409.0 L747.6,409.6 L751.1,410.2 L751.5,410.7 L750.5,411.6 L745.0,412.4 L743.6,413.1 L744.0,413.5 L747.8,413.8 L751.1,414.1 L753.0,414.5 L750.2,415.3 L745.3,416.2 L744.3,417.3 L745.2,419.2 L748.9,421.1 L751.3,421.7 L754.7,422.2 L758.0,422.6 L761.8,423.0 L764.7,423.4 L766.2,423.8 L768.1,424.3 L765.8,425.4 L760.1,426.6 L759.5,427.6 L760.1,428.0 L761.1,428.4 L761.8,428.7 L765.6,429.0 L768.2,429.2 L770.1,429.5 L773.5,429.8 L778.8,430.0 L781.6,430.3 L783.9,430.6 L786.5,431.0 L789.0,431.4 L792.1,432.0 L796.3,432.6 L798.5,433.3 L800.9,434.1 L804.8,434.8 L806.3,435.4 L805.9,436.0 L807.5,436.5 L806.8,436.9 L806.2,437.4 L804.1,437.9 L801.9,438.3 L798.7,438.8 L795.6,439.2 L791.0,439.7 L789.9,440.0 L787.3,440.2 L785.1,440.5 L781.7,440.7 L779.6,441.0 L775.9,441.2 L772.1,441.4 L768.9,441.7 L765.5,441.9 L763.0,442.2 L759.1,442.5 L757.0,442.8 L753.6,443.1 L751.8,443.5 L749.5,443.9 L747.6,444.3 L746.7,444.8 L743.8,445.3 L743.2,446.9 L741.9,448.6 L742.9,449.2 L744.9,449.8 L747.8,450.3 L750.1,450.8 L753.8,451.2 L758.7,451.6 L760.7,452.0 L765.3,452.4 L768.4,452.7 L769.7,453.0 L772.5,453.4 L773.2,453.7 L772.7,454.2 L768.8,454.6 L766.4,455.0 L761.5,455.4 L757.8,455.8 L756.0,456.2 L753.2,456.6 L757.0,457.2 L761.3,457.8 L763.2,458.4 L763.1,458.9 L759.3,459.5 L755.9,460.1 L752.4,460.7 L750.1,461.3 L747.9,461.7 L749.2,462.0 L751.3,462.1 L754.7,462.2 L758.9,462.2 L761.7,462.2 L766.5,462.3 L768.8,462.3 L771.1,462.4 L771.5,462.6 L770.9,463.0 L769.0,463.4 L764.5,463.8 L760.6,464.3 L755.9,464.8 L753.0,465.3 L751.8,465.9 L754.1,466.8 L758.1,467.8 L762.3,468.8 L762.6,469.7 L762.2,470.4 L758.6,471.2 L754.1,471.8 L751.3,472.5 L753.2,473.1 L755.9,473.6 L760.1,474.2 L764.9,474.7 L765.6,475.3 L764.9,475.7 L763.1,476.2 L760.3,476.7 L756.2,477.2 L752.5,477.7 L748.9,478.2 L746.1,478.6 L743.8,478.9 L743.2,479.0 L743.3,479.1 L746.9,479.0 L750.2,478.7 L754.8,478.5 L757.1,478.2 L759.9,478.0 L760.7,478.0 L761.1,478.1 L758.6,478.2 L754.3,478.3 L749.6,478.5 L746.7,478.8 L743.7,479.3 L742.1,479.9 L744.1,481.5 L747.2,483.6 L745.6,486.2 L742.5,489.2 L741.6,491.6 L741.1,494.1 L740.9,496.7 L738.8,499.8 L739.6,503.0 L738.2,506.1 L737.7,509.3 L738.1,512.5 L736.4,515.5 L735.3,517.7 L733.0,519.7 L731.5,522.0 L731.0,525.3 L731.0,529.4 L731.0,532.8 L731.0,534.2" stroke="#9467bd" stroke-width="2.8"/>
<path d="M731.1,193.1 L734.8,201.9 L742.0,207.7 L752.3,218.6 L771.2,223.0 L752.3,227.4 L777.0,228.9 L822.3,231.0 L794.5,234.7 L769.8,235.4 L731.8,236.9 L731.2,243.1 L737.2,252.5 L758.8,256.2 L816.0,258.6 L860.2,261.7 L807.7,263.1 L791.6,265.3 L778.5,269.0 L806.2,273.3 L833.9,275.5 L806.2,276.3 L777.0,278.4 L788.7,282.8 L806.2,284.6 L731.8,285.7 L731.8,296.7 L747.9,301.8 L794.5,305.4 L772.7,311.3 L775.6,317.1 L761.0,320.0 L772.7,321.5 L740.6,325.8 L740.6,325.8 L784.3,331.7 L858.7,334.6 L778.5,339.0 L819.3,344.8 L788.7,347.0 L828.1,352.8 L845.6,358.6 L863.1,362.3 L828.1,363.8 L804.8,368.1 L755.2,380.5 L797.5,383.4 L731.8,387.8 L731.8,391.5 L806.2,396.6 L810.6,395.8 L788.7,398.0 L863.1,400.2 L857.3,403.1 L845.6,406.8 L863.1,408.2 L793.1,415.5 L863.1,416.0 L787.3,421.4 L801.8,421.8 L804.8,424.3 L838.3,424.7 L804.8,427.9 L863.1,428.6 L852.9,433.8 L863.1,435.2 L810.6,444.0 L863.1,444.3 L772.7,448.3 L828.1,449.1 L798.9,452.7 L845.6,453.4 L803.3,455.6 L828.1,456.4 L852.9,458.5 L863.1,459.3 L850.0,461.5 L863.1,462.2 L835.4,465.8 L863.1,466.6 L836.8,465.8 L863.1,466.6 L828.1,470.9 L850.0,471.4 L835.4,474.6 L863.1,475.3 L803.3,479.0 L863.1,479.7 L839.8,483.3 L863.1,483.6 L807.7,489.2 L823.7,489.6 L794.5,491.4 L801.8,497.9 L828.1,498.4 L838.3,502.3 L863.1,503.0 L842.7,506.7 L863.1,507.4 L832.5,509.6 L863.1,510.3 L831.0,515.4 L781.4,518.3 L782.2,518.3 L744.7,522.0 L734.4,526.7 L730.7,536.1 L729.3,549.2" stroke="#000" stroke-width="1.4" stroke-dasharray="1.3 1.4"/>
</g>
<line x1="120" y1="546.00" x2="127.3" y2="546.00" stroke="#000" stroke-width="2.0"/>
<line x1="174.7" y1="546.00" x2="182" y2="546.00" stroke="#000" stroke-width="2.0"/>
<line x1="120" y1="469.30" x2="127.3" y2="469.30" stroke="#000" stroke-width="2.0"/>
<line x1="174.7" y1="469.30" x2="182" y2="469.30" stroke="#000" stroke-width="2.0"/>
<line x1="120" y1="392.60" x2="127.3" y2="392.60" stroke="#000" stroke-width="2.0"/>
<line x1="174.7" y1="392.60" x2="182" y2="392.60" stroke="#000" stroke-width="2.0"/>
<line x1="120" y1="315.90" x2="127.3" y2="315.90" stroke="#000" stroke-width="2.0"/>
<line x1="174.7" y1="315.90" x2="182" y2="315.90" stroke="#000" stroke-width="2.0"/>
<line x1="120" y1="239.20" x2="127.3" y2="239.20" stroke="#000" stroke-width="2.0"/>
<line x1="174.7" y1="239.20" x2="182" y2="239.20" stroke="#000" stroke-width="2.0"/>
<line x1="120" y1="162.50" x2="127.3" y2="162.50" stroke="#000" stroke-width="2.0"/>
<line x1="174.7" y1="162.50" x2="182" y2="162.50" stroke="#000" stroke-width="2.0"/>
<line x1="120" y1="565" x2="120" y2="557.7" stroke="#000" stroke-width="2.0"/>
<line x1="120" y1="162.1" x2="120" y2="169.4" stroke="#000" stroke-width="2.0"/>
<line x1="182" y1="565" x2="182" y2="557.7" stroke="#000" stroke-width="2.0"/>
<line x1="182" y1="162.1" x2="182" y2="169.4" stroke="#000" stroke-width="2.0"/>
<rect x="120" y="162.1" width="62" height="402.9" fill="none" stroke="#000" stroke-width="2.0" stroke-linejoin="miter"/>
<line x1="198.5" y1="546.00" x2="205.8" y2="546.00" stroke="#000" stroke-width="2.0"/>
<line x1="431.7" y1="546.00" x2="439" y2="546.00" stroke="#000" stroke-width="2.0"/>
<line x1="198.5" y1="469.30" x2="205.8" y2="469.30" stroke="#000" stroke-width="2.0"/>
<line x1="431.7" y1="469.30" x2="439" y2="469.30" stroke="#000" stroke-width="2.0"/>
<line x1="198.5" y1="392.60" x2="205.8" y2="392.60" stroke="#000" stroke-width="2.0"/>
<line x1="431.7" y1="392.60" x2="439" y2="392.60" stroke="#000" stroke-width="2.0"/>
<line x1="198.5" y1="315.90" x2="205.8" y2="315.90" stroke="#000" stroke-width="2.0"/>
<line x1="431.7" y1="315.90" x2="439" y2="315.90" stroke="#000" stroke-width="2.0"/>
<line x1="198.5" y1="239.20" x2="205.8" y2="239.20" stroke="#000" stroke-width="2.0"/>
<line x1="431.7" y1="239.20" x2="439" y2="239.20" stroke="#000" stroke-width="2.0"/>
<line x1="198.5" y1="162.50" x2="205.8" y2="162.50" stroke="#000" stroke-width="2.0"/>
<line x1="431.7" y1="162.50" x2="439" y2="162.50" stroke="#000" stroke-width="2.0"/>
<line x1="198.5" y1="565" x2="198.5" y2="557.7" stroke="#000" stroke-width="2.0"/>
<line x1="198.5" y1="162.1" x2="198.5" y2="169.4" stroke="#000" stroke-width="2.0"/>
<line x1="212" y1="565" x2="212" y2="557.7" stroke="#000" stroke-width="2.0"/>
<line x1="212" y1="162.1" x2="212" y2="169.4" stroke="#000" stroke-width="2.0"/>
<line x1="307" y1="565" x2="307" y2="557.7" stroke="#000" stroke-width="2.0"/>
<line x1="307" y1="162.1" x2="307" y2="169.4" stroke="#000" stroke-width="2.0"/>
<line x1="413" y1="565" x2="413" y2="557.7" stroke="#000" stroke-width="2.0"/>
<line x1="413" y1="162.1" x2="413" y2="169.4" stroke="#000" stroke-width="2.0"/>
<line x1="439" y1="565" x2="439" y2="557.7" stroke="#000" stroke-width="2.0"/>
<line x1="439" y1="162.1" x2="439" y2="169.4" stroke="#000" stroke-width="2.0"/>
<rect x="198.5" y="162.1" width="240.5" height="402.9" fill="none" stroke="#000" stroke-width="2.0" stroke-linejoin="miter"/>
<line x1="455.4" y1="546.00" x2="462.7" y2="546.00" stroke="#000" stroke-width="2.0"/>
<line x1="543.3000000000001" y1="546.00" x2="550.6" y2="546.00" stroke="#000" stroke-width="2.0"/>
<line x1="455.4" y1="469.30" x2="462.7" y2="469.30" stroke="#000" stroke-width="2.0"/>
<line x1="543.3000000000001" y1="469.30" x2="550.6" y2="469.30" stroke="#000" stroke-width="2.0"/>
<line x1="455.4" y1="392.60" x2="462.7" y2="392.60" stroke="#000" stroke-width="2.0"/>
<line x1="543.3000000000001" y1="392.60" x2="550.6" y2="392.60" stroke="#000" stroke-width="2.0"/>
<line x1="455.4" y1="315.90" x2="462.7" y2="315.90" stroke="#000" stroke-width="2.0"/>
<line x1="543.3000000000001" y1="315.90" x2="550.6" y2="315.90" stroke="#000" stroke-width="2.0"/>
<line x1="455.4" y1="239.20" x2="462.7" y2="239.20" stroke="#000" stroke-width="2.0"/>
<line x1="543.3000000000001" y1="239.20" x2="550.6" y2="239.20" stroke="#000" stroke-width="2.0"/>
<line x1="455.4" y1="162.50" x2="462.7" y2="162.50" stroke="#000" stroke-width="2.0"/>
<line x1="543.3000000000001" y1="162.50" x2="550.6" y2="162.50" stroke="#000" stroke-width="2.0"/>
<line x1="455.4" y1="565" x2="455.4" y2="557.7" stroke="#000" stroke-width="2.0"/>
<line x1="455.4" y1="162.1" x2="455.4" y2="169.4" stroke="#000" stroke-width="2.0"/>
<line x1="505.6" y1="565" x2="505.6" y2="557.7" stroke="#000" stroke-width="2.0"/>
<line x1="505.6" y1="162.1" x2="505.6" y2="169.4" stroke="#000" stroke-width="2.0"/>
<line x1="550.6" y1="565" x2="550.6" y2="557.7" stroke="#000" stroke-width="2.0"/>
<line x1="550.6" y1="162.1" x2="550.6" y2="169.4" stroke="#000" stroke-width="2.0"/>
<rect x="455.4" y="162.1" width="95.20000000000005" height="402.9" fill="none" stroke="#000" stroke-width="2.0" stroke-linejoin="miter"/>
<line x1="567.1" y1="546.00" x2="574.4" y2="546.00" stroke="#000" stroke-width="2.0"/>
<line x1="705.7" y1="546.00" x2="713" y2="546.00" stroke="#000" stroke-width="2.0"/>
<line x1="567.1" y1="469.30" x2="574.4" y2="469.30" stroke="#000" stroke-width="2.0"/>
<line x1="705.7" y1="469.30" x2="713" y2="469.30" stroke="#000" stroke-width="2.0"/>
<line x1="567.1" y1="392.60" x2="574.4" y2="392.60" stroke="#000" stroke-width="2.0"/>
<line x1="705.7" y1="392.60" x2="713" y2="392.60" stroke="#000" stroke-width="2.0"/>
<line x1="567.1" y1="315.90" x2="574.4" y2="315.90" stroke="#000" stroke-width="2.0"/>
<line x1="705.7" y1="315.90" x2="713" y2="315.90" stroke="#000" stroke-width="2.0"/>
<line x1="567.1" y1="239.20" x2="574.4" y2="239.20" stroke="#000" stroke-width="2.0"/>
<line x1="705.7" y1="239.20" x2="713" y2="239.20" stroke="#000" stroke-width="2.0"/>
<line x1="567.1" y1="162.50" x2="574.4" y2="162.50" stroke="#000" stroke-width="2.0"/>
<line x1="705.7" y1="162.50" x2="713" y2="162.50" stroke="#000" stroke-width="2.0"/>
<line x1="567.1" y1="565" x2="567.1" y2="557.7" stroke="#000" stroke-width="2.0"/>
<line x1="567.1" y1="162.1" x2="567.1" y2="169.4" stroke="#000" stroke-width="2.0"/>
<line x1="652.1" y1="565" x2="652.1" y2="557.7" stroke="#000" stroke-width="2.0"/>
<line x1="652.1" y1="162.1" x2="652.1" y2="169.4" stroke="#000" stroke-width="2.0"/>
<line x1="713" y1="565" x2="713" y2="557.7" stroke="#000" stroke-width="2.0"/>
<line x1="713" y1="162.1" x2="713" y2="169.4" stroke="#000" stroke-width="2.0"/>
<rect x="567.1" y="162.1" width="145.89999999999998" height="402.9" fill="none" stroke="#000" stroke-width="2.0" stroke-linejoin="miter"/>
<line x1="730" y1="546.00" x2="737.3" y2="546.00" stroke="#000" stroke-width="2.0"/>
<line x1="856.6" y1="546.00" x2="863.9" y2="546.00" stroke="#000" stroke-width="2.0"/>
<line x1="730" y1="469.30" x2="737.3" y2="469.30" stroke="#000" stroke-width="2.0"/>
<line x1="856.6" y1="469.30" x2="863.9" y2="469.30" stroke="#000" stroke-width="2.0"/>
<line x1="730" y1="392.60" x2="737.3" y2="392.60" stroke="#000" stroke-width="2.0"/>
<line x1="856.6" y1="392.60" x2="863.9" y2="392.60" stroke="#000" stroke-width="2.0"/>
<line x1="730" y1="315.90" x2="737.3" y2="315.90" stroke="#000" stroke-width="2.0"/>
<line x1="856.6" y1="315.90" x2="863.9" y2="315.90" stroke="#000" stroke-width="2.0"/>
<line x1="730" y1="239.20" x2="737.3" y2="239.20" stroke="#000" stroke-width="2.0"/>
<line x1="856.6" y1="239.20" x2="863.9" y2="239.20" stroke="#000" stroke-width="2.0"/>
<line x1="730" y1="162.50" x2="737.3" y2="162.50" stroke="#000" stroke-width="2.0"/>
<line x1="856.6" y1="162.50" x2="863.9" y2="162.50" stroke="#000" stroke-width="2.0"/>
<line x1="730" y1="565" x2="730" y2="557.7" stroke="#000" stroke-width="2.0"/>
<line x1="730" y1="162.1" x2="730" y2="169.4" stroke="#000" stroke-width="2.0"/>
<line x1="800" y1="565" x2="800" y2="557.7" stroke="#000" stroke-width="2.0"/>
<line x1="800" y1="162.1" x2="800" y2="169.4" stroke="#000" stroke-width="2.0"/>
<rect x="730" y="162.1" width="133.89999999999998" height="402.9" fill="none" stroke="#000" stroke-width="2.0" stroke-linejoin="miter"/>
</svg>
<div class="xl" style="left:61.5px">&#915;</div><div class="xl" style="left:122px">C</div><div class="xl" style="left:138.5px">C<span class="sub">2</span></div><div class="xl" style="left:152px">Y<span class="sub">2</span></div><div class="xl" style="left:248.5px">&#915;</div><div class="xl" style="left:353px">M<span class="sub">2</span></div><div class="xl" style="left:379px">D</div><div class="xl" style="left:395.4px">D<span class="sub">2</span></div><div class="xl" style="left:445.6px">A</div><div class="xl" style="left:492px">&#915;</div><div class="xl" style="left:507.1px">L<span class="sub">2</span></div><div class="xl" style="left:593.6px">&#915;</div><div class="xl" style="left:653px">V<span class="sub">2</span></div><div class="xl" style="left:669.8px">0</div><div class="xl" style="left:740px">2</div><div class="yl" style="top:534.5px">0</div><div class="yl" style="top:457.8px">5</div><div class="yl" style="top:381.1px">10</div><div class="yl" style="top:304.4px">15</div><div class="yl" style="top:227.7px">20</div><div class="yl" style="top:151.0px">25</div><div class="ylab">Frequency (THz)</div>
</body></html>
